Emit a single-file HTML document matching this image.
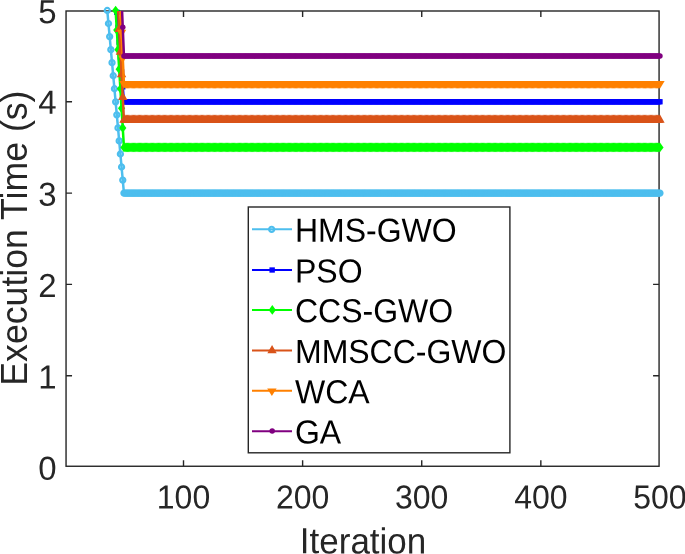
<!DOCTYPE html>
<html lang="en"><head><meta charset="utf-8"><title>Execution Time vs Iteration</title>
<style>html,body{margin:0;padding:0;background:#fff}body{width:685px;height:554px;overflow:hidden}svg{display:block}text{font-family:"Liberation Sans",Arial,Helvetica,sans-serif}</style></head><body>
<svg width="685" height="554" viewBox="0 0 685 554">
<rect width="685" height="554" fill="#fff"/>
<defs>
<clipPath id="ax"><rect x="66.05" y="11" width="593.02" height="455.26"/></clipPath>
<g id="m0"><circle r="2.55" fill="none" stroke="#4DBEEE" stroke-width="2.2"/></g>
<g id="m1"><rect x="-2.7" y="-2.7" width="5.4" height="5.3" fill="#0000FF"/></g>
<g id="m2"><path d="M0 -4.85L3.6 0L0 4.85L-3.6 0Z" fill="#00FF00"/></g>
<g id="m3"><path d="M0 -5.53 L4.7 2.77 L-4.7 2.77 Z" fill="#D95319"/></g>
<g id="m4"><path transform="translate(0 0.15)" d="M0 5.13 L4.7 -2.57 L-4.7 -2.57 Z" fill="#FF8000"/></g>
<g id="m5"><circle r="2.75" cy="-0.1" fill="#800080"/></g>
</defs>
<g stroke="#262626" stroke-width="1.4" fill="none">
<rect x="66.05" y="11" width="593.02" height="455.26"/>
<path d="M183.51 466.26v-6M183.51 11v6M302.62 466.26v-6M302.62 11v6M421.73 466.26v-6M421.73 11v6M540.84 466.26v-6M540.84 11v6M66.05 375.7h6M659.07 375.7h-6M66.05 284.4h6M659.07 284.4h-6M66.05 193.1h6M659.07 193.1h-6M66.05 101.8h6M659.07 101.8h-6"/>
</g>
<g>
<polyline clip-path="url(#ax)" points="87.03,-211.23 88.22,-198.19 89.41,-185.14 90.6,-172.1 91.79,-159.06 92.99,-146.01 94.18,-132.97 95.37,-119.93 96.56,-106.89 97.75,-93.84 98.94,-80.8 100.13,-67.76 101.32,-54.71 102.51,-41.67 103.71,-28.63 104.9,-15.59 106.09,-2.54 107.28,10.5 108.47,23.54 109.66,36.59 110.85,49.63 112.04,62.67 113.23,75.71 114.43,88.76 115.62,101.8 116.81,114.84 118,127.89 119.19,140.93 120.38,153.97 121.57,167.01 122.76,180.06 123.95,193.1 125.15,193.1 126.34,193.1 127.53,193.1 128.72,193.1 129.91,193.1 131.1,193.1 132.29,193.1 133.48,193.1 134.67,193.1 135.86,193.1 137.06,193.1 138.25,193.1 139.44,193.1 140.63,193.1 141.82,193.1 143.01,193.1 144.2,193.1 145.39,193.1 146.58,193.1 147.78,193.1 148.97,193.1 150.16,193.1 151.35,193.1 152.54,193.1 153.73,193.1 154.92,193.1 156.11,193.1 157.3,193.1 158.5,193.1 159.69,193.1 160.88,193.1 162.07,193.1 163.26,193.1 164.45,193.1 165.64,193.1 166.83,193.1 168.02,193.1 169.22,193.1 170.41,193.1 171.6,193.1 172.79,193.1 173.98,193.1 175.17,193.1 176.36,193.1 177.55,193.1 178.74,193.1 179.94,193.1 181.13,193.1 182.32,193.1 183.51,193.1 184.7,193.1 185.89,193.1 187.08,193.1 188.27,193.1 189.46,193.1 190.66,193.1 191.85,193.1 193.04,193.1 194.23,193.1 195.42,193.1 196.61,193.1 197.8,193.1 198.99,193.1 200.18,193.1 201.38,193.1 202.57,193.1 203.76,193.1 204.95,193.1 206.14,193.1 207.33,193.1 208.52,193.1 209.71,193.1 210.9,193.1 212.1,193.1 213.29,193.1 214.48,193.1 215.67,193.1 216.86,193.1 218.05,193.1 219.24,193.1 220.43,193.1 221.62,193.1 222.82,193.1 224.01,193.1 225.2,193.1 226.39,193.1 227.58,193.1 228.77,193.1 229.96,193.1 231.15,193.1 232.34,193.1 233.54,193.1 234.73,193.1 235.92,193.1 237.11,193.1 238.3,193.1 239.49,193.1 240.68,193.1 241.87,193.1 243.06,193.1 244.26,193.1 245.45,193.1 246.64,193.1 247.83,193.1 249.02,193.1 250.21,193.1 251.4,193.1 252.59,193.1 253.78,193.1 254.97,193.1 256.17,193.1 257.36,193.1 258.55,193.1 259.74,193.1 260.93,193.1 262.12,193.1 263.31,193.1 264.5,193.1 265.69,193.1 266.89,193.1 268.08,193.1 269.27,193.1 270.46,193.1 271.65,193.1 272.84,193.1 274.03,193.1 275.22,193.1 276.41,193.1 277.61,193.1 278.8,193.1 279.99,193.1 281.18,193.1 282.37,193.1 283.56,193.1 284.75,193.1 285.94,193.1 287.13,193.1 288.33,193.1 289.52,193.1 290.71,193.1 291.9,193.1 293.09,193.1 294.28,193.1 295.47,193.1 296.66,193.1 297.85,193.1 299.05,193.1 300.24,193.1 301.43,193.1 302.62,193.1 303.81,193.1 305,193.1 306.19,193.1 307.38,193.1 308.57,193.1 309.77,193.1 310.96,193.1 312.15,193.1 313.34,193.1 314.53,193.1 315.72,193.1 316.91,193.1 318.1,193.1 319.29,193.1 320.49,193.1 321.68,193.1 322.87,193.1 324.06,193.1 325.25,193.1 326.44,193.1 327.63,193.1 328.82,193.1 330.01,193.1 331.21,193.1 332.4,193.1 333.59,193.1 334.78,193.1 335.97,193.1 337.16,193.1 338.35,193.1 339.54,193.1 340.73,193.1 341.93,193.1 343.12,193.1 344.31,193.1 345.5,193.1 346.69,193.1 347.88,193.1 349.07,193.1 350.26,193.1 351.45,193.1 352.65,193.1 353.84,193.1 355.03,193.1 356.22,193.1 357.41,193.1 358.6,193.1 359.79,193.1 360.98,193.1 362.17,193.1 363.37,193.1 364.56,193.1 365.75,193.1 366.94,193.1 368.13,193.1 369.32,193.1 370.51,193.1 371.7,193.1 372.89,193.1 374.08,193.1 375.28,193.1 376.47,193.1 377.66,193.1 378.85,193.1 380.04,193.1 381.23,193.1 382.42,193.1 383.61,193.1 384.8,193.1 386,193.1 387.19,193.1 388.38,193.1 389.57,193.1 390.76,193.1 391.95,193.1 393.14,193.1 394.33,193.1 395.52,193.1 396.72,193.1 397.91,193.1 399.1,193.1 400.29,193.1 401.48,193.1 402.67,193.1 403.86,193.1 405.05,193.1 406.24,193.1 407.44,193.1 408.63,193.1 409.82,193.1 411.01,193.1 412.2,193.1 413.39,193.1 414.58,193.1 415.77,193.1 416.96,193.1 418.16,193.1 419.35,193.1 420.54,193.1 421.73,193.1 422.92,193.1 424.11,193.1 425.3,193.1 426.49,193.1 427.68,193.1 428.88,193.1 430.07,193.1 431.26,193.1 432.45,193.1 433.64,193.1 434.83,193.1 436.02,193.1 437.21,193.1 438.4,193.1 439.6,193.1 440.79,193.1 441.98,193.1 443.17,193.1 444.36,193.1 445.55,193.1 446.74,193.1 447.93,193.1 449.12,193.1 450.32,193.1 451.51,193.1 452.7,193.1 453.89,193.1 455.08,193.1 456.27,193.1 457.46,193.1 458.65,193.1 459.84,193.1 461.04,193.1 462.23,193.1 463.42,193.1 464.61,193.1 465.8,193.1 466.99,193.1 468.18,193.1 469.37,193.1 470.56,193.1 471.76,193.1 472.95,193.1 474.14,193.1 475.33,193.1 476.52,193.1 477.71,193.1 478.9,193.1 480.09,193.1 481.28,193.1 482.48,193.1 483.67,193.1 484.86,193.1 486.05,193.1 487.24,193.1 488.43,193.1 489.62,193.1 490.81,193.1 492,193.1 493.19,193.1 494.39,193.1 495.58,193.1 496.77,193.1 497.96,193.1 499.15,193.1 500.34,193.1 501.53,193.1 502.72,193.1 503.91,193.1 505.11,193.1 506.3,193.1 507.49,193.1 508.68,193.1 509.87,193.1 511.06,193.1 512.25,193.1 513.44,193.1 514.63,193.1 515.83,193.1 517.02,193.1 518.21,193.1 519.4,193.1 520.59,193.1 521.78,193.1 522.97,193.1 524.16,193.1 525.35,193.1 526.55,193.1 527.74,193.1 528.93,193.1 530.12,193.1 531.31,193.1 532.5,193.1 533.69,193.1 534.88,193.1 536.07,193.1 537.27,193.1 538.46,193.1 539.65,193.1 540.84,193.1 542.03,193.1 543.22,193.1 544.41,193.1 545.6,193.1 546.79,193.1 547.99,193.1 549.18,193.1 550.37,193.1 551.56,193.1 552.75,193.1 553.94,193.1 555.13,193.1 556.32,193.1 557.51,193.1 558.71,193.1 559.9,193.1 561.09,193.1 562.28,193.1 563.47,193.1 564.66,193.1 565.85,193.1 567.04,193.1 568.23,193.1 569.43,193.1 570.62,193.1 571.81,193.1 573,193.1 574.19,193.1 575.38,193.1 576.57,193.1 577.76,193.1 578.95,193.1 580.15,193.1 581.34,193.1 582.53,193.1 583.72,193.1 584.91,193.1 586.1,193.1 587.29,193.1 588.48,193.1 589.67,193.1 590.87,193.1 592.06,193.1 593.25,193.1 594.44,193.1 595.63,193.1 596.82,193.1 598.01,193.1 599.2,193.1 600.39,193.1 601.59,193.1 602.78,193.1 603.97,193.1 605.16,193.1 606.35,193.1 607.54,193.1 608.73,193.1 609.92,193.1 611.11,193.1 612.3,193.1 613.5,193.1 614.69,193.1 615.88,193.1 617.07,193.1 618.26,193.1 619.45,193.1 620.64,193.1 621.83,193.1 623.02,193.1 624.22,193.1 625.41,193.1 626.6,193.1 627.79,193.1 628.98,193.1 630.17,193.1 631.36,193.1 632.55,193.1 633.74,193.1 634.94,193.1 636.13,193.1 637.32,193.1 638.51,193.1 639.7,193.1 640.89,193.1 642.08,193.1 643.27,193.1 644.46,193.1 645.66,193.1 646.85,193.1 648.04,193.1 649.23,193.1 650.42,193.1 651.61,193.1 652.8,193.1 653.99,193.1 655.18,193.1 656.38,193.1 657.57,193.1 658.76,193.1 659.95,193.1" fill="none" stroke="#4DBEEE" stroke-width="2.5" stroke-linejoin="round"/>
<use href="#m0" x="107.28" y="10.5"/><use href="#m0" x="108.47" y="23.54"/><use href="#m0" x="109.66" y="36.59"/><use href="#m0" x="110.85" y="49.63"/><use href="#m0" x="112.04" y="62.67"/><use href="#m0" x="113.23" y="75.71"/><use href="#m0" x="114.43" y="88.76"/><use href="#m0" x="115.62" y="101.8"/><use href="#m0" x="116.81" y="114.84"/><use href="#m0" x="118" y="127.89"/><use href="#m0" x="119.19" y="140.93"/><use href="#m0" x="120.38" y="153.97"/><use href="#m0" x="121.57" y="167.01"/><use href="#m0" x="122.76" y="180.06"/><use href="#m0" x="123.95" y="193.1"/><use href="#m0" x="125.15" y="193.1"/><use href="#m0" x="126.34" y="193.1"/><use href="#m0" x="127.53" y="193.1"/><use href="#m0" x="128.72" y="193.1"/><use href="#m0" x="129.91" y="193.1"/><use href="#m0" x="131.1" y="193.1"/><use href="#m0" x="132.29" y="193.1"/><use href="#m0" x="133.48" y="193.1"/><use href="#m0" x="134.67" y="193.1"/><use href="#m0" x="135.86" y="193.1"/><use href="#m0" x="137.06" y="193.1"/><use href="#m0" x="138.25" y="193.1"/><use href="#m0" x="139.44" y="193.1"/><use href="#m0" x="140.63" y="193.1"/><use href="#m0" x="141.82" y="193.1"/><use href="#m0" x="143.01" y="193.1"/><use href="#m0" x="144.2" y="193.1"/><use href="#m0" x="145.39" y="193.1"/><use href="#m0" x="146.58" y="193.1"/><use href="#m0" x="147.78" y="193.1"/><use href="#m0" x="148.97" y="193.1"/><use href="#m0" x="150.16" y="193.1"/><use href="#m0" x="151.35" y="193.1"/><use href="#m0" x="152.54" y="193.1"/><use href="#m0" x="153.73" y="193.1"/><use href="#m0" x="154.92" y="193.1"/><use href="#m0" x="156.11" y="193.1"/><use href="#m0" x="157.3" y="193.1"/><use href="#m0" x="158.5" y="193.1"/><use href="#m0" x="159.69" y="193.1"/><use href="#m0" x="160.88" y="193.1"/><use href="#m0" x="162.07" y="193.1"/><use href="#m0" x="163.26" y="193.1"/><use href="#m0" x="164.45" y="193.1"/><use href="#m0" x="165.64" y="193.1"/><use href="#m0" x="166.83" y="193.1"/><use href="#m0" x="168.02" y="193.1"/><use href="#m0" x="169.22" y="193.1"/><use href="#m0" x="170.41" y="193.1"/><use href="#m0" x="171.6" y="193.1"/><use href="#m0" x="172.79" y="193.1"/><use href="#m0" x="173.98" y="193.1"/><use href="#m0" x="175.17" y="193.1"/><use href="#m0" x="176.36" y="193.1"/><use href="#m0" x="177.55" y="193.1"/><use href="#m0" x="178.74" y="193.1"/><use href="#m0" x="179.94" y="193.1"/><use href="#m0" x="181.13" y="193.1"/><use href="#m0" x="182.32" y="193.1"/><use href="#m0" x="183.51" y="193.1"/><use href="#m0" x="184.7" y="193.1"/><use href="#m0" x="185.89" y="193.1"/><use href="#m0" x="187.08" y="193.1"/><use href="#m0" x="188.27" y="193.1"/><use href="#m0" x="189.46" y="193.1"/><use href="#m0" x="190.66" y="193.1"/><use href="#m0" x="191.85" y="193.1"/><use href="#m0" x="193.04" y="193.1"/><use href="#m0" x="194.23" y="193.1"/><use href="#m0" x="195.42" y="193.1"/><use href="#m0" x="196.61" y="193.1"/><use href="#m0" x="197.8" y="193.1"/><use href="#m0" x="198.99" y="193.1"/><use href="#m0" x="200.18" y="193.1"/><use href="#m0" x="201.38" y="193.1"/><use href="#m0" x="202.57" y="193.1"/><use href="#m0" x="203.76" y="193.1"/><use href="#m0" x="204.95" y="193.1"/><use href="#m0" x="206.14" y="193.1"/><use href="#m0" x="207.33" y="193.1"/><use href="#m0" x="208.52" y="193.1"/><use href="#m0" x="209.71" y="193.1"/><use href="#m0" x="210.9" y="193.1"/><use href="#m0" x="212.1" y="193.1"/><use href="#m0" x="213.29" y="193.1"/><use href="#m0" x="214.48" y="193.1"/><use href="#m0" x="215.67" y="193.1"/><use href="#m0" x="216.86" y="193.1"/><use href="#m0" x="218.05" y="193.1"/><use href="#m0" x="219.24" y="193.1"/><use href="#m0" x="220.43" y="193.1"/><use href="#m0" x="221.62" y="193.1"/><use href="#m0" x="222.82" y="193.1"/><use href="#m0" x="224.01" y="193.1"/><use href="#m0" x="225.2" y="193.1"/><use href="#m0" x="226.39" y="193.1"/><use href="#m0" x="227.58" y="193.1"/><use href="#m0" x="228.77" y="193.1"/><use href="#m0" x="229.96" y="193.1"/><use href="#m0" x="231.15" y="193.1"/><use href="#m0" x="232.34" y="193.1"/><use href="#m0" x="233.54" y="193.1"/><use href="#m0" x="234.73" y="193.1"/><use href="#m0" x="235.92" y="193.1"/><use href="#m0" x="237.11" y="193.1"/><use href="#m0" x="238.3" y="193.1"/><use href="#m0" x="239.49" y="193.1"/><use href="#m0" x="240.68" y="193.1"/><use href="#m0" x="241.87" y="193.1"/><use href="#m0" x="243.06" y="193.1"/><use href="#m0" x="244.26" y="193.1"/><use href="#m0" x="245.45" y="193.1"/><use href="#m0" x="246.64" y="193.1"/><use href="#m0" x="247.83" y="193.1"/><use href="#m0" x="249.02" y="193.1"/><use href="#m0" x="250.21" y="193.1"/><use href="#m0" x="251.4" y="193.1"/><use href="#m0" x="252.59" y="193.1"/><use href="#m0" x="253.78" y="193.1"/><use href="#m0" x="254.97" y="193.1"/><use href="#m0" x="256.17" y="193.1"/><use href="#m0" x="257.36" y="193.1"/><use href="#m0" x="258.55" y="193.1"/><use href="#m0" x="259.74" y="193.1"/><use href="#m0" x="260.93" y="193.1"/><use href="#m0" x="262.12" y="193.1"/><use href="#m0" x="263.31" y="193.1"/><use href="#m0" x="264.5" y="193.1"/><use href="#m0" x="265.69" y="193.1"/><use href="#m0" x="266.89" y="193.1"/><use href="#m0" x="268.08" y="193.1"/><use href="#m0" x="269.27" y="193.1"/><use href="#m0" x="270.46" y="193.1"/><use href="#m0" x="271.65" y="193.1"/><use href="#m0" x="272.84" y="193.1"/><use href="#m0" x="274.03" y="193.1"/><use href="#m0" x="275.22" y="193.1"/><use href="#m0" x="276.41" y="193.1"/><use href="#m0" x="277.61" y="193.1"/><use href="#m0" x="278.8" y="193.1"/><use href="#m0" x="279.99" y="193.1"/><use href="#m0" x="281.18" y="193.1"/><use href="#m0" x="282.37" y="193.1"/><use href="#m0" x="283.56" y="193.1"/><use href="#m0" x="284.75" y="193.1"/><use href="#m0" x="285.94" y="193.1"/><use href="#m0" x="287.13" y="193.1"/><use href="#m0" x="288.33" y="193.1"/><use href="#m0" x="289.52" y="193.1"/><use href="#m0" x="290.71" y="193.1"/><use href="#m0" x="291.9" y="193.1"/><use href="#m0" x="293.09" y="193.1"/><use href="#m0" x="294.28" y="193.1"/><use href="#m0" x="295.47" y="193.1"/><use href="#m0" x="296.66" y="193.1"/><use href="#m0" x="297.85" y="193.1"/><use href="#m0" x="299.05" y="193.1"/><use href="#m0" x="300.24" y="193.1"/><use href="#m0" x="301.43" y="193.1"/><use href="#m0" x="302.62" y="193.1"/><use href="#m0" x="303.81" y="193.1"/><use href="#m0" x="305" y="193.1"/><use href="#m0" x="306.19" y="193.1"/><use href="#m0" x="307.38" y="193.1"/><use href="#m0" x="308.57" y="193.1"/><use href="#m0" x="309.77" y="193.1"/><use href="#m0" x="310.96" y="193.1"/><use href="#m0" x="312.15" y="193.1"/><use href="#m0" x="313.34" y="193.1"/><use href="#m0" x="314.53" y="193.1"/><use href="#m0" x="315.72" y="193.1"/><use href="#m0" x="316.91" y="193.1"/><use href="#m0" x="318.1" y="193.1"/><use href="#m0" x="319.29" y="193.1"/><use href="#m0" x="320.49" y="193.1"/><use href="#m0" x="321.68" y="193.1"/><use href="#m0" x="322.87" y="193.1"/><use href="#m0" x="324.06" y="193.1"/><use href="#m0" x="325.25" y="193.1"/><use href="#m0" x="326.44" y="193.1"/><use href="#m0" x="327.63" y="193.1"/><use href="#m0" x="328.82" y="193.1"/><use href="#m0" x="330.01" y="193.1"/><use href="#m0" x="331.21" y="193.1"/><use href="#m0" x="332.4" y="193.1"/><use href="#m0" x="333.59" y="193.1"/><use href="#m0" x="334.78" y="193.1"/><use href="#m0" x="335.97" y="193.1"/><use href="#m0" x="337.16" y="193.1"/><use href="#m0" x="338.35" y="193.1"/><use href="#m0" x="339.54" y="193.1"/><use href="#m0" x="340.73" y="193.1"/><use href="#m0" x="341.93" y="193.1"/><use href="#m0" x="343.12" y="193.1"/><use href="#m0" x="344.31" y="193.1"/><use href="#m0" x="345.5" y="193.1"/><use href="#m0" x="346.69" y="193.1"/><use href="#m0" x="347.88" y="193.1"/><use href="#m0" x="349.07" y="193.1"/><use href="#m0" x="350.26" y="193.1"/><use href="#m0" x="351.45" y="193.1"/><use href="#m0" x="352.65" y="193.1"/><use href="#m0" x="353.84" y="193.1"/><use href="#m0" x="355.03" y="193.1"/><use href="#m0" x="356.22" y="193.1"/><use href="#m0" x="357.41" y="193.1"/><use href="#m0" x="358.6" y="193.1"/><use href="#m0" x="359.79" y="193.1"/><use href="#m0" x="360.98" y="193.1"/><use href="#m0" x="362.17" y="193.1"/><use href="#m0" x="363.37" y="193.1"/><use href="#m0" x="364.56" y="193.1"/><use href="#m0" x="365.75" y="193.1"/><use href="#m0" x="366.94" y="193.1"/><use href="#m0" x="368.13" y="193.1"/><use href="#m0" x="369.32" y="193.1"/><use href="#m0" x="370.51" y="193.1"/><use href="#m0" x="371.7" y="193.1"/><use href="#m0" x="372.89" y="193.1"/><use href="#m0" x="374.08" y="193.1"/><use href="#m0" x="375.28" y="193.1"/><use href="#m0" x="376.47" y="193.1"/><use href="#m0" x="377.66" y="193.1"/><use href="#m0" x="378.85" y="193.1"/><use href="#m0" x="380.04" y="193.1"/><use href="#m0" x="381.23" y="193.1"/><use href="#m0" x="382.42" y="193.1"/><use href="#m0" x="383.61" y="193.1"/><use href="#m0" x="384.8" y="193.1"/><use href="#m0" x="386" y="193.1"/><use href="#m0" x="387.19" y="193.1"/><use href="#m0" x="388.38" y="193.1"/><use href="#m0" x="389.57" y="193.1"/><use href="#m0" x="390.76" y="193.1"/><use href="#m0" x="391.95" y="193.1"/><use href="#m0" x="393.14" y="193.1"/><use href="#m0" x="394.33" y="193.1"/><use href="#m0" x="395.52" y="193.1"/><use href="#m0" x="396.72" y="193.1"/><use href="#m0" x="397.91" y="193.1"/><use href="#m0" x="399.1" y="193.1"/><use href="#m0" x="400.29" y="193.1"/><use href="#m0" x="401.48" y="193.1"/><use href="#m0" x="402.67" y="193.1"/><use href="#m0" x="403.86" y="193.1"/><use href="#m0" x="405.05" y="193.1"/><use href="#m0" x="406.24" y="193.1"/><use href="#m0" x="407.44" y="193.1"/><use href="#m0" x="408.63" y="193.1"/><use href="#m0" x="409.82" y="193.1"/><use href="#m0" x="411.01" y="193.1"/><use href="#m0" x="412.2" y="193.1"/><use href="#m0" x="413.39" y="193.1"/><use href="#m0" x="414.58" y="193.1"/><use href="#m0" x="415.77" y="193.1"/><use href="#m0" x="416.96" y="193.1"/><use href="#m0" x="418.16" y="193.1"/><use href="#m0" x="419.35" y="193.1"/><use href="#m0" x="420.54" y="193.1"/><use href="#m0" x="421.73" y="193.1"/><use href="#m0" x="422.92" y="193.1"/><use href="#m0" x="424.11" y="193.1"/><use href="#m0" x="425.3" y="193.1"/><use href="#m0" x="426.49" y="193.1"/><use href="#m0" x="427.68" y="193.1"/><use href="#m0" x="428.88" y="193.1"/><use href="#m0" x="430.07" y="193.1"/><use href="#m0" x="431.26" y="193.1"/><use href="#m0" x="432.45" y="193.1"/><use href="#m0" x="433.64" y="193.1"/><use href="#m0" x="434.83" y="193.1"/><use href="#m0" x="436.02" y="193.1"/><use href="#m0" x="437.21" y="193.1"/><use href="#m0" x="438.4" y="193.1"/><use href="#m0" x="439.6" y="193.1"/><use href="#m0" x="440.79" y="193.1"/><use href="#m0" x="441.98" y="193.1"/><use href="#m0" x="443.17" y="193.1"/><use href="#m0" x="444.36" y="193.1"/><use href="#m0" x="445.55" y="193.1"/><use href="#m0" x="446.74" y="193.1"/><use href="#m0" x="447.93" y="193.1"/><use href="#m0" x="449.12" y="193.1"/><use href="#m0" x="450.32" y="193.1"/><use href="#m0" x="451.51" y="193.1"/><use href="#m0" x="452.7" y="193.1"/><use href="#m0" x="453.89" y="193.1"/><use href="#m0" x="455.08" y="193.1"/><use href="#m0" x="456.27" y="193.1"/><use href="#m0" x="457.46" y="193.1"/><use href="#m0" x="458.65" y="193.1"/><use href="#m0" x="459.84" y="193.1"/><use href="#m0" x="461.04" y="193.1"/><use href="#m0" x="462.23" y="193.1"/><use href="#m0" x="463.42" y="193.1"/><use href="#m0" x="464.61" y="193.1"/><use href="#m0" x="465.8" y="193.1"/><use href="#m0" x="466.99" y="193.1"/><use href="#m0" x="468.18" y="193.1"/><use href="#m0" x="469.37" y="193.1"/><use href="#m0" x="470.56" y="193.1"/><use href="#m0" x="471.76" y="193.1"/><use href="#m0" x="472.95" y="193.1"/><use href="#m0" x="474.14" y="193.1"/><use href="#m0" x="475.33" y="193.1"/><use href="#m0" x="476.52" y="193.1"/><use href="#m0" x="477.71" y="193.1"/><use href="#m0" x="478.9" y="193.1"/><use href="#m0" x="480.09" y="193.1"/><use href="#m0" x="481.28" y="193.1"/><use href="#m0" x="482.48" y="193.1"/><use href="#m0" x="483.67" y="193.1"/><use href="#m0" x="484.86" y="193.1"/><use href="#m0" x="486.05" y="193.1"/><use href="#m0" x="487.24" y="193.1"/><use href="#m0" x="488.43" y="193.1"/><use href="#m0" x="489.62" y="193.1"/><use href="#m0" x="490.81" y="193.1"/><use href="#m0" x="492" y="193.1"/><use href="#m0" x="493.19" y="193.1"/><use href="#m0" x="494.39" y="193.1"/><use href="#m0" x="495.58" y="193.1"/><use href="#m0" x="496.77" y="193.1"/><use href="#m0" x="497.96" y="193.1"/><use href="#m0" x="499.15" y="193.1"/><use href="#m0" x="500.34" y="193.1"/><use href="#m0" x="501.53" y="193.1"/><use href="#m0" x="502.72" y="193.1"/><use href="#m0" x="503.91" y="193.1"/><use href="#m0" x="505.11" y="193.1"/><use href="#m0" x="506.3" y="193.1"/><use href="#m0" x="507.49" y="193.1"/><use href="#m0" x="508.68" y="193.1"/><use href="#m0" x="509.87" y="193.1"/><use href="#m0" x="511.06" y="193.1"/><use href="#m0" x="512.25" y="193.1"/><use href="#m0" x="513.44" y="193.1"/><use href="#m0" x="514.63" y="193.1"/><use href="#m0" x="515.83" y="193.1"/><use href="#m0" x="517.02" y="193.1"/><use href="#m0" x="518.21" y="193.1"/><use href="#m0" x="519.4" y="193.1"/><use href="#m0" x="520.59" y="193.1"/><use href="#m0" x="521.78" y="193.1"/><use href="#m0" x="522.97" y="193.1"/><use href="#m0" x="524.16" y="193.1"/><use href="#m0" x="525.35" y="193.1"/><use href="#m0" x="526.55" y="193.1"/><use href="#m0" x="527.74" y="193.1"/><use href="#m0" x="528.93" y="193.1"/><use href="#m0" x="530.12" y="193.1"/><use href="#m0" x="531.31" y="193.1"/><use href="#m0" x="532.5" y="193.1"/><use href="#m0" x="533.69" y="193.1"/><use href="#m0" x="534.88" y="193.1"/><use href="#m0" x="536.07" y="193.1"/><use href="#m0" x="537.27" y="193.1"/><use href="#m0" x="538.46" y="193.1"/><use href="#m0" x="539.65" y="193.1"/><use href="#m0" x="540.84" y="193.1"/><use href="#m0" x="542.03" y="193.1"/><use href="#m0" x="543.22" y="193.1"/><use href="#m0" x="544.41" y="193.1"/><use href="#m0" x="545.6" y="193.1"/><use href="#m0" x="546.79" y="193.1"/><use href="#m0" x="547.99" y="193.1"/><use href="#m0" x="549.18" y="193.1"/><use href="#m0" x="550.37" y="193.1"/><use href="#m0" x="551.56" y="193.1"/><use href="#m0" x="552.75" y="193.1"/><use href="#m0" x="553.94" y="193.1"/><use href="#m0" x="555.13" y="193.1"/><use href="#m0" x="556.32" y="193.1"/><use href="#m0" x="557.51" y="193.1"/><use href="#m0" x="558.71" y="193.1"/><use href="#m0" x="559.9" y="193.1"/><use href="#m0" x="561.09" y="193.1"/><use href="#m0" x="562.28" y="193.1"/><use href="#m0" x="563.47" y="193.1"/><use href="#m0" x="564.66" y="193.1"/><use href="#m0" x="565.85" y="193.1"/><use href="#m0" x="567.04" y="193.1"/><use href="#m0" x="568.23" y="193.1"/><use href="#m0" x="569.43" y="193.1"/><use href="#m0" x="570.62" y="193.1"/><use href="#m0" x="571.81" y="193.1"/><use href="#m0" x="573" y="193.1"/><use href="#m0" x="574.19" y="193.1"/><use href="#m0" x="575.38" y="193.1"/><use href="#m0" x="576.57" y="193.1"/><use href="#m0" x="577.76" y="193.1"/><use href="#m0" x="578.95" y="193.1"/><use href="#m0" x="580.15" y="193.1"/><use href="#m0" x="581.34" y="193.1"/><use href="#m0" x="582.53" y="193.1"/><use href="#m0" x="583.72" y="193.1"/><use href="#m0" x="584.91" y="193.1"/><use href="#m0" x="586.1" y="193.1"/><use href="#m0" x="587.29" y="193.1"/><use href="#m0" x="588.48" y="193.1"/><use href="#m0" x="589.67" y="193.1"/><use href="#m0" x="590.87" y="193.1"/><use href="#m0" x="592.06" y="193.1"/><use href="#m0" x="593.25" y="193.1"/><use href="#m0" x="594.44" y="193.1"/><use href="#m0" x="595.63" y="193.1"/><use href="#m0" x="596.82" y="193.1"/><use href="#m0" x="598.01" y="193.1"/><use href="#m0" x="599.2" y="193.1"/><use href="#m0" x="600.39" y="193.1"/><use href="#m0" x="601.59" y="193.1"/><use href="#m0" x="602.78" y="193.1"/><use href="#m0" x="603.97" y="193.1"/><use href="#m0" x="605.16" y="193.1"/><use href="#m0" x="606.35" y="193.1"/><use href="#m0" x="607.54" y="193.1"/><use href="#m0" x="608.73" y="193.1"/><use href="#m0" x="609.92" y="193.1"/><use href="#m0" x="611.11" y="193.1"/><use href="#m0" x="612.3" y="193.1"/><use href="#m0" x="613.5" y="193.1"/><use href="#m0" x="614.69" y="193.1"/><use href="#m0" x="615.88" y="193.1"/><use href="#m0" x="617.07" y="193.1"/><use href="#m0" x="618.26" y="193.1"/><use href="#m0" x="619.45" y="193.1"/><use href="#m0" x="620.64" y="193.1"/><use href="#m0" x="621.83" y="193.1"/><use href="#m0" x="623.02" y="193.1"/><use href="#m0" x="624.22" y="193.1"/><use href="#m0" x="625.41" y="193.1"/><use href="#m0" x="626.6" y="193.1"/><use href="#m0" x="627.79" y="193.1"/><use href="#m0" x="628.98" y="193.1"/><use href="#m0" x="630.17" y="193.1"/><use href="#m0" x="631.36" y="193.1"/><use href="#m0" x="632.55" y="193.1"/><use href="#m0" x="633.74" y="193.1"/><use href="#m0" x="634.94" y="193.1"/><use href="#m0" x="636.13" y="193.1"/><use href="#m0" x="637.32" y="193.1"/><use href="#m0" x="638.51" y="193.1"/><use href="#m0" x="639.7" y="193.1"/><use href="#m0" x="640.89" y="193.1"/><use href="#m0" x="642.08" y="193.1"/><use href="#m0" x="643.27" y="193.1"/><use href="#m0" x="644.46" y="193.1"/><use href="#m0" x="645.66" y="193.1"/><use href="#m0" x="646.85" y="193.1"/><use href="#m0" x="648.04" y="193.1"/><use href="#m0" x="649.23" y="193.1"/><use href="#m0" x="650.42" y="193.1"/><use href="#m0" x="651.61" y="193.1"/><use href="#m0" x="652.8" y="193.1"/><use href="#m0" x="653.99" y="193.1"/><use href="#m0" x="655.18" y="193.1"/><use href="#m0" x="656.38" y="193.1"/><use href="#m0" x="657.57" y="193.1"/><use href="#m0" x="658.76" y="193.1"/><use href="#m0" x="659.95" y="193.1"/>
</g>
<g>
<polyline clip-path="url(#ax)" points="98.94,-211.23 100.13,-196.32 101.32,-181.42 102.51,-166.51 103.71,-151.6 104.9,-136.7 106.09,-121.79 107.28,-106.89 108.47,-91.98 109.66,-77.07 110.85,-62.17 112.04,-47.26 113.23,-32.36 114.43,-17.45 115.62,-2.54 116.81,12.36 118,27.27 119.19,42.18 120.38,57.08 121.57,71.99 122.76,86.89 123.95,101.8 125.15,101.8 126.34,101.8 127.53,101.8 128.72,101.8 129.91,101.8 131.1,101.8 132.29,101.8 133.48,101.8 134.67,101.8 135.86,101.8 137.06,101.8 138.25,101.8 139.44,101.8 140.63,101.8 141.82,101.8 143.01,101.8 144.2,101.8 145.39,101.8 146.58,101.8 147.78,101.8 148.97,101.8 150.16,101.8 151.35,101.8 152.54,101.8 153.73,101.8 154.92,101.8 156.11,101.8 157.3,101.8 158.5,101.8 159.69,101.8 160.88,101.8 162.07,101.8 163.26,101.8 164.45,101.8 165.64,101.8 166.83,101.8 168.02,101.8 169.22,101.8 170.41,101.8 171.6,101.8 172.79,101.8 173.98,101.8 175.17,101.8 176.36,101.8 177.55,101.8 178.74,101.8 179.94,101.8 181.13,101.8 182.32,101.8 183.51,101.8 184.7,101.8 185.89,101.8 187.08,101.8 188.27,101.8 189.46,101.8 190.66,101.8 191.85,101.8 193.04,101.8 194.23,101.8 195.42,101.8 196.61,101.8 197.8,101.8 198.99,101.8 200.18,101.8 201.38,101.8 202.57,101.8 203.76,101.8 204.95,101.8 206.14,101.8 207.33,101.8 208.52,101.8 209.71,101.8 210.9,101.8 212.1,101.8 213.29,101.8 214.48,101.8 215.67,101.8 216.86,101.8 218.05,101.8 219.24,101.8 220.43,101.8 221.62,101.8 222.82,101.8 224.01,101.8 225.2,101.8 226.39,101.8 227.58,101.8 228.77,101.8 229.96,101.8 231.15,101.8 232.34,101.8 233.54,101.8 234.73,101.8 235.92,101.8 237.11,101.8 238.3,101.8 239.49,101.8 240.68,101.8 241.87,101.8 243.06,101.8 244.26,101.8 245.45,101.8 246.64,101.8 247.83,101.8 249.02,101.8 250.21,101.8 251.4,101.8 252.59,101.8 253.78,101.8 254.97,101.8 256.17,101.8 257.36,101.8 258.55,101.8 259.74,101.8 260.93,101.8 262.12,101.8 263.31,101.8 264.5,101.8 265.69,101.8 266.89,101.8 268.08,101.8 269.27,101.8 270.46,101.8 271.65,101.8 272.84,101.8 274.03,101.8 275.22,101.8 276.41,101.8 277.61,101.8 278.8,101.8 279.99,101.8 281.18,101.8 282.37,101.8 283.56,101.8 284.75,101.8 285.94,101.8 287.13,101.8 288.33,101.8 289.52,101.8 290.71,101.8 291.9,101.8 293.09,101.8 294.28,101.8 295.47,101.8 296.66,101.8 297.85,101.8 299.05,101.8 300.24,101.8 301.43,101.8 302.62,101.8 303.81,101.8 305,101.8 306.19,101.8 307.38,101.8 308.57,101.8 309.77,101.8 310.96,101.8 312.15,101.8 313.34,101.8 314.53,101.8 315.72,101.8 316.91,101.8 318.1,101.8 319.29,101.8 320.49,101.8 321.68,101.8 322.87,101.8 324.06,101.8 325.25,101.8 326.44,101.8 327.63,101.8 328.82,101.8 330.01,101.8 331.21,101.8 332.4,101.8 333.59,101.8 334.78,101.8 335.97,101.8 337.16,101.8 338.35,101.8 339.54,101.8 340.73,101.8 341.93,101.8 343.12,101.8 344.31,101.8 345.5,101.8 346.69,101.8 347.88,101.8 349.07,101.8 350.26,101.8 351.45,101.8 352.65,101.8 353.84,101.8 355.03,101.8 356.22,101.8 357.41,101.8 358.6,101.8 359.79,101.8 360.98,101.8 362.17,101.8 363.37,101.8 364.56,101.8 365.75,101.8 366.94,101.8 368.13,101.8 369.32,101.8 370.51,101.8 371.7,101.8 372.89,101.8 374.08,101.8 375.28,101.8 376.47,101.8 377.66,101.8 378.85,101.8 380.04,101.8 381.23,101.8 382.42,101.8 383.61,101.8 384.8,101.8 386,101.8 387.19,101.8 388.38,101.8 389.57,101.8 390.76,101.8 391.95,101.8 393.14,101.8 394.33,101.8 395.52,101.8 396.72,101.8 397.91,101.8 399.1,101.8 400.29,101.8 401.48,101.8 402.67,101.8 403.86,101.8 405.05,101.8 406.24,101.8 407.44,101.8 408.63,101.8 409.82,101.8 411.01,101.8 412.2,101.8 413.39,101.8 414.58,101.8 415.77,101.8 416.96,101.8 418.16,101.8 419.35,101.8 420.54,101.8 421.73,101.8 422.92,101.8 424.11,101.8 425.3,101.8 426.49,101.8 427.68,101.8 428.88,101.8 430.07,101.8 431.26,101.8 432.45,101.8 433.64,101.8 434.83,101.8 436.02,101.8 437.21,101.8 438.4,101.8 439.6,101.8 440.79,101.8 441.98,101.8 443.17,101.8 444.36,101.8 445.55,101.8 446.74,101.8 447.93,101.8 449.12,101.8 450.32,101.8 451.51,101.8 452.7,101.8 453.89,101.8 455.08,101.8 456.27,101.8 457.46,101.8 458.65,101.8 459.84,101.8 461.04,101.8 462.23,101.8 463.42,101.8 464.61,101.8 465.8,101.8 466.99,101.8 468.18,101.8 469.37,101.8 470.56,101.8 471.76,101.8 472.95,101.8 474.14,101.8 475.33,101.8 476.52,101.8 477.71,101.8 478.9,101.8 480.09,101.8 481.28,101.8 482.48,101.8 483.67,101.8 484.86,101.8 486.05,101.8 487.24,101.8 488.43,101.8 489.62,101.8 490.81,101.8 492,101.8 493.19,101.8 494.39,101.8 495.58,101.8 496.77,101.8 497.96,101.8 499.15,101.8 500.34,101.8 501.53,101.8 502.72,101.8 503.91,101.8 505.11,101.8 506.3,101.8 507.49,101.8 508.68,101.8 509.87,101.8 511.06,101.8 512.25,101.8 513.44,101.8 514.63,101.8 515.83,101.8 517.02,101.8 518.21,101.8 519.4,101.8 520.59,101.8 521.78,101.8 522.97,101.8 524.16,101.8 525.35,101.8 526.55,101.8 527.74,101.8 528.93,101.8 530.12,101.8 531.31,101.8 532.5,101.8 533.69,101.8 534.88,101.8 536.07,101.8 537.27,101.8 538.46,101.8 539.65,101.8 540.84,101.8 542.03,101.8 543.22,101.8 544.41,101.8 545.6,101.8 546.79,101.8 547.99,101.8 549.18,101.8 550.37,101.8 551.56,101.8 552.75,101.8 553.94,101.8 555.13,101.8 556.32,101.8 557.51,101.8 558.71,101.8 559.9,101.8 561.09,101.8 562.28,101.8 563.47,101.8 564.66,101.8 565.85,101.8 567.04,101.8 568.23,101.8 569.43,101.8 570.62,101.8 571.81,101.8 573,101.8 574.19,101.8 575.38,101.8 576.57,101.8 577.76,101.8 578.95,101.8 580.15,101.8 581.34,101.8 582.53,101.8 583.72,101.8 584.91,101.8 586.1,101.8 587.29,101.8 588.48,101.8 589.67,101.8 590.87,101.8 592.06,101.8 593.25,101.8 594.44,101.8 595.63,101.8 596.82,101.8 598.01,101.8 599.2,101.8 600.39,101.8 601.59,101.8 602.78,101.8 603.97,101.8 605.16,101.8 606.35,101.8 607.54,101.8 608.73,101.8 609.92,101.8 611.11,101.8 612.3,101.8 613.5,101.8 614.69,101.8 615.88,101.8 617.07,101.8 618.26,101.8 619.45,101.8 620.64,101.8 621.83,101.8 623.02,101.8 624.22,101.8 625.41,101.8 626.6,101.8 627.79,101.8 628.98,101.8 630.17,101.8 631.36,101.8 632.55,101.8 633.74,101.8 634.94,101.8 636.13,101.8 637.32,101.8 638.51,101.8 639.7,101.8 640.89,101.8 642.08,101.8 643.27,101.8 644.46,101.8 645.66,101.8 646.85,101.8 648.04,101.8 649.23,101.8 650.42,101.8 651.61,101.8 652.8,101.8 653.99,101.8 655.18,101.8 656.38,101.8 657.57,101.8 658.76,101.8 659.95,101.8" fill="none" stroke="#0000FF" stroke-width="2.5" stroke-linejoin="round"/>
<use href="#m1" x="116.81" y="12.36"/><use href="#m1" x="118" y="27.27"/><use href="#m1" x="119.19" y="42.18"/><use href="#m1" x="120.38" y="57.08"/><use href="#m1" x="121.57" y="71.99"/><use href="#m1" x="122.76" y="86.89"/><use href="#m1" x="123.95" y="101.8"/><use href="#m1" x="125.15" y="101.8"/><use href="#m1" x="126.34" y="101.8"/><use href="#m1" x="127.53" y="101.8"/><use href="#m1" x="128.72" y="101.8"/><use href="#m1" x="129.91" y="101.8"/><use href="#m1" x="131.1" y="101.8"/><use href="#m1" x="132.29" y="101.8"/><use href="#m1" x="133.48" y="101.8"/><use href="#m1" x="134.67" y="101.8"/><use href="#m1" x="135.86" y="101.8"/><use href="#m1" x="137.06" y="101.8"/><use href="#m1" x="138.25" y="101.8"/><use href="#m1" x="139.44" y="101.8"/><use href="#m1" x="140.63" y="101.8"/><use href="#m1" x="141.82" y="101.8"/><use href="#m1" x="143.01" y="101.8"/><use href="#m1" x="144.2" y="101.8"/><use href="#m1" x="145.39" y="101.8"/><use href="#m1" x="146.58" y="101.8"/><use href="#m1" x="147.78" y="101.8"/><use href="#m1" x="148.97" y="101.8"/><use href="#m1" x="150.16" y="101.8"/><use href="#m1" x="151.35" y="101.8"/><use href="#m1" x="152.54" y="101.8"/><use href="#m1" x="153.73" y="101.8"/><use href="#m1" x="154.92" y="101.8"/><use href="#m1" x="156.11" y="101.8"/><use href="#m1" x="157.3" y="101.8"/><use href="#m1" x="158.5" y="101.8"/><use href="#m1" x="159.69" y="101.8"/><use href="#m1" x="160.88" y="101.8"/><use href="#m1" x="162.07" y="101.8"/><use href="#m1" x="163.26" y="101.8"/><use href="#m1" x="164.45" y="101.8"/><use href="#m1" x="165.64" y="101.8"/><use href="#m1" x="166.83" y="101.8"/><use href="#m1" x="168.02" y="101.8"/><use href="#m1" x="169.22" y="101.8"/><use href="#m1" x="170.41" y="101.8"/><use href="#m1" x="171.6" y="101.8"/><use href="#m1" x="172.79" y="101.8"/><use href="#m1" x="173.98" y="101.8"/><use href="#m1" x="175.17" y="101.8"/><use href="#m1" x="176.36" y="101.8"/><use href="#m1" x="177.55" y="101.8"/><use href="#m1" x="178.74" y="101.8"/><use href="#m1" x="179.94" y="101.8"/><use href="#m1" x="181.13" y="101.8"/><use href="#m1" x="182.32" y="101.8"/><use href="#m1" x="183.51" y="101.8"/><use href="#m1" x="184.7" y="101.8"/><use href="#m1" x="185.89" y="101.8"/><use href="#m1" x="187.08" y="101.8"/><use href="#m1" x="188.27" y="101.8"/><use href="#m1" x="189.46" y="101.8"/><use href="#m1" x="190.66" y="101.8"/><use href="#m1" x="191.85" y="101.8"/><use href="#m1" x="193.04" y="101.8"/><use href="#m1" x="194.23" y="101.8"/><use href="#m1" x="195.42" y="101.8"/><use href="#m1" x="196.61" y="101.8"/><use href="#m1" x="197.8" y="101.8"/><use href="#m1" x="198.99" y="101.8"/><use href="#m1" x="200.18" y="101.8"/><use href="#m1" x="201.38" y="101.8"/><use href="#m1" x="202.57" y="101.8"/><use href="#m1" x="203.76" y="101.8"/><use href="#m1" x="204.95" y="101.8"/><use href="#m1" x="206.14" y="101.8"/><use href="#m1" x="207.33" y="101.8"/><use href="#m1" x="208.52" y="101.8"/><use href="#m1" x="209.71" y="101.8"/><use href="#m1" x="210.9" y="101.8"/><use href="#m1" x="212.1" y="101.8"/><use href="#m1" x="213.29" y="101.8"/><use href="#m1" x="214.48" y="101.8"/><use href="#m1" x="215.67" y="101.8"/><use href="#m1" x="216.86" y="101.8"/><use href="#m1" x="218.05" y="101.8"/><use href="#m1" x="219.24" y="101.8"/><use href="#m1" x="220.43" y="101.8"/><use href="#m1" x="221.62" y="101.8"/><use href="#m1" x="222.82" y="101.8"/><use href="#m1" x="224.01" y="101.8"/><use href="#m1" x="225.2" y="101.8"/><use href="#m1" x="226.39" y="101.8"/><use href="#m1" x="227.58" y="101.8"/><use href="#m1" x="228.77" y="101.8"/><use href="#m1" x="229.96" y="101.8"/><use href="#m1" x="231.15" y="101.8"/><use href="#m1" x="232.34" y="101.8"/><use href="#m1" x="233.54" y="101.8"/><use href="#m1" x="234.73" y="101.8"/><use href="#m1" x="235.92" y="101.8"/><use href="#m1" x="237.11" y="101.8"/><use href="#m1" x="238.3" y="101.8"/><use href="#m1" x="239.49" y="101.8"/><use href="#m1" x="240.68" y="101.8"/><use href="#m1" x="241.87" y="101.8"/><use href="#m1" x="243.06" y="101.8"/><use href="#m1" x="244.26" y="101.8"/><use href="#m1" x="245.45" y="101.8"/><use href="#m1" x="246.64" y="101.8"/><use href="#m1" x="247.83" y="101.8"/><use href="#m1" x="249.02" y="101.8"/><use href="#m1" x="250.21" y="101.8"/><use href="#m1" x="251.4" y="101.8"/><use href="#m1" x="252.59" y="101.8"/><use href="#m1" x="253.78" y="101.8"/><use href="#m1" x="254.97" y="101.8"/><use href="#m1" x="256.17" y="101.8"/><use href="#m1" x="257.36" y="101.8"/><use href="#m1" x="258.55" y="101.8"/><use href="#m1" x="259.74" y="101.8"/><use href="#m1" x="260.93" y="101.8"/><use href="#m1" x="262.12" y="101.8"/><use href="#m1" x="263.31" y="101.8"/><use href="#m1" x="264.5" y="101.8"/><use href="#m1" x="265.69" y="101.8"/><use href="#m1" x="266.89" y="101.8"/><use href="#m1" x="268.08" y="101.8"/><use href="#m1" x="269.27" y="101.8"/><use href="#m1" x="270.46" y="101.8"/><use href="#m1" x="271.65" y="101.8"/><use href="#m1" x="272.84" y="101.8"/><use href="#m1" x="274.03" y="101.8"/><use href="#m1" x="275.22" y="101.8"/><use href="#m1" x="276.41" y="101.8"/><use href="#m1" x="277.61" y="101.8"/><use href="#m1" x="278.8" y="101.8"/><use href="#m1" x="279.99" y="101.8"/><use href="#m1" x="281.18" y="101.8"/><use href="#m1" x="282.37" y="101.8"/><use href="#m1" x="283.56" y="101.8"/><use href="#m1" x="284.75" y="101.8"/><use href="#m1" x="285.94" y="101.8"/><use href="#m1" x="287.13" y="101.8"/><use href="#m1" x="288.33" y="101.8"/><use href="#m1" x="289.52" y="101.8"/><use href="#m1" x="290.71" y="101.8"/><use href="#m1" x="291.9" y="101.8"/><use href="#m1" x="293.09" y="101.8"/><use href="#m1" x="294.28" y="101.8"/><use href="#m1" x="295.47" y="101.8"/><use href="#m1" x="296.66" y="101.8"/><use href="#m1" x="297.85" y="101.8"/><use href="#m1" x="299.05" y="101.8"/><use href="#m1" x="300.24" y="101.8"/><use href="#m1" x="301.43" y="101.8"/><use href="#m1" x="302.62" y="101.8"/><use href="#m1" x="303.81" y="101.8"/><use href="#m1" x="305" y="101.8"/><use href="#m1" x="306.19" y="101.8"/><use href="#m1" x="307.38" y="101.8"/><use href="#m1" x="308.57" y="101.8"/><use href="#m1" x="309.77" y="101.8"/><use href="#m1" x="310.96" y="101.8"/><use href="#m1" x="312.15" y="101.8"/><use href="#m1" x="313.34" y="101.8"/><use href="#m1" x="314.53" y="101.8"/><use href="#m1" x="315.72" y="101.8"/><use href="#m1" x="316.91" y="101.8"/><use href="#m1" x="318.1" y="101.8"/><use href="#m1" x="319.29" y="101.8"/><use href="#m1" x="320.49" y="101.8"/><use href="#m1" x="321.68" y="101.8"/><use href="#m1" x="322.87" y="101.8"/><use href="#m1" x="324.06" y="101.8"/><use href="#m1" x="325.25" y="101.8"/><use href="#m1" x="326.44" y="101.8"/><use href="#m1" x="327.63" y="101.8"/><use href="#m1" x="328.82" y="101.8"/><use href="#m1" x="330.01" y="101.8"/><use href="#m1" x="331.21" y="101.8"/><use href="#m1" x="332.4" y="101.8"/><use href="#m1" x="333.59" y="101.8"/><use href="#m1" x="334.78" y="101.8"/><use href="#m1" x="335.97" y="101.8"/><use href="#m1" x="337.16" y="101.8"/><use href="#m1" x="338.35" y="101.8"/><use href="#m1" x="339.54" y="101.8"/><use href="#m1" x="340.73" y="101.8"/><use href="#m1" x="341.93" y="101.8"/><use href="#m1" x="343.12" y="101.8"/><use href="#m1" x="344.31" y="101.8"/><use href="#m1" x="345.5" y="101.8"/><use href="#m1" x="346.69" y="101.8"/><use href="#m1" x="347.88" y="101.8"/><use href="#m1" x="349.07" y="101.8"/><use href="#m1" x="350.26" y="101.8"/><use href="#m1" x="351.45" y="101.8"/><use href="#m1" x="352.65" y="101.8"/><use href="#m1" x="353.84" y="101.8"/><use href="#m1" x="355.03" y="101.8"/><use href="#m1" x="356.22" y="101.8"/><use href="#m1" x="357.41" y="101.8"/><use href="#m1" x="358.6" y="101.8"/><use href="#m1" x="359.79" y="101.8"/><use href="#m1" x="360.98" y="101.8"/><use href="#m1" x="362.17" y="101.8"/><use href="#m1" x="363.37" y="101.8"/><use href="#m1" x="364.56" y="101.8"/><use href="#m1" x="365.75" y="101.8"/><use href="#m1" x="366.94" y="101.8"/><use href="#m1" x="368.13" y="101.8"/><use href="#m1" x="369.32" y="101.8"/><use href="#m1" x="370.51" y="101.8"/><use href="#m1" x="371.7" y="101.8"/><use href="#m1" x="372.89" y="101.8"/><use href="#m1" x="374.08" y="101.8"/><use href="#m1" x="375.28" y="101.8"/><use href="#m1" x="376.47" y="101.8"/><use href="#m1" x="377.66" y="101.8"/><use href="#m1" x="378.85" y="101.8"/><use href="#m1" x="380.04" y="101.8"/><use href="#m1" x="381.23" y="101.8"/><use href="#m1" x="382.42" y="101.8"/><use href="#m1" x="383.61" y="101.8"/><use href="#m1" x="384.8" y="101.8"/><use href="#m1" x="386" y="101.8"/><use href="#m1" x="387.19" y="101.8"/><use href="#m1" x="388.38" y="101.8"/><use href="#m1" x="389.57" y="101.8"/><use href="#m1" x="390.76" y="101.8"/><use href="#m1" x="391.95" y="101.8"/><use href="#m1" x="393.14" y="101.8"/><use href="#m1" x="394.33" y="101.8"/><use href="#m1" x="395.52" y="101.8"/><use href="#m1" x="396.72" y="101.8"/><use href="#m1" x="397.91" y="101.8"/><use href="#m1" x="399.1" y="101.8"/><use href="#m1" x="400.29" y="101.8"/><use href="#m1" x="401.48" y="101.8"/><use href="#m1" x="402.67" y="101.8"/><use href="#m1" x="403.86" y="101.8"/><use href="#m1" x="405.05" y="101.8"/><use href="#m1" x="406.24" y="101.8"/><use href="#m1" x="407.44" y="101.8"/><use href="#m1" x="408.63" y="101.8"/><use href="#m1" x="409.82" y="101.8"/><use href="#m1" x="411.01" y="101.8"/><use href="#m1" x="412.2" y="101.8"/><use href="#m1" x="413.39" y="101.8"/><use href="#m1" x="414.58" y="101.8"/><use href="#m1" x="415.77" y="101.8"/><use href="#m1" x="416.96" y="101.8"/><use href="#m1" x="418.16" y="101.8"/><use href="#m1" x="419.35" y="101.8"/><use href="#m1" x="420.54" y="101.8"/><use href="#m1" x="421.73" y="101.8"/><use href="#m1" x="422.92" y="101.8"/><use href="#m1" x="424.11" y="101.8"/><use href="#m1" x="425.3" y="101.8"/><use href="#m1" x="426.49" y="101.8"/><use href="#m1" x="427.68" y="101.8"/><use href="#m1" x="428.88" y="101.8"/><use href="#m1" x="430.07" y="101.8"/><use href="#m1" x="431.26" y="101.8"/><use href="#m1" x="432.45" y="101.8"/><use href="#m1" x="433.64" y="101.8"/><use href="#m1" x="434.83" y="101.8"/><use href="#m1" x="436.02" y="101.8"/><use href="#m1" x="437.21" y="101.8"/><use href="#m1" x="438.4" y="101.8"/><use href="#m1" x="439.6" y="101.8"/><use href="#m1" x="440.79" y="101.8"/><use href="#m1" x="441.98" y="101.8"/><use href="#m1" x="443.17" y="101.8"/><use href="#m1" x="444.36" y="101.8"/><use href="#m1" x="445.55" y="101.8"/><use href="#m1" x="446.74" y="101.8"/><use href="#m1" x="447.93" y="101.8"/><use href="#m1" x="449.12" y="101.8"/><use href="#m1" x="450.32" y="101.8"/><use href="#m1" x="451.51" y="101.8"/><use href="#m1" x="452.7" y="101.8"/><use href="#m1" x="453.89" y="101.8"/><use href="#m1" x="455.08" y="101.8"/><use href="#m1" x="456.27" y="101.8"/><use href="#m1" x="457.46" y="101.8"/><use href="#m1" x="458.65" y="101.8"/><use href="#m1" x="459.84" y="101.8"/><use href="#m1" x="461.04" y="101.8"/><use href="#m1" x="462.23" y="101.8"/><use href="#m1" x="463.42" y="101.8"/><use href="#m1" x="464.61" y="101.8"/><use href="#m1" x="465.8" y="101.8"/><use href="#m1" x="466.99" y="101.8"/><use href="#m1" x="468.18" y="101.8"/><use href="#m1" x="469.37" y="101.8"/><use href="#m1" x="470.56" y="101.8"/><use href="#m1" x="471.76" y="101.8"/><use href="#m1" x="472.95" y="101.8"/><use href="#m1" x="474.14" y="101.8"/><use href="#m1" x="475.33" y="101.8"/><use href="#m1" x="476.52" y="101.8"/><use href="#m1" x="477.71" y="101.8"/><use href="#m1" x="478.9" y="101.8"/><use href="#m1" x="480.09" y="101.8"/><use href="#m1" x="481.28" y="101.8"/><use href="#m1" x="482.48" y="101.8"/><use href="#m1" x="483.67" y="101.8"/><use href="#m1" x="484.86" y="101.8"/><use href="#m1" x="486.05" y="101.8"/><use href="#m1" x="487.24" y="101.8"/><use href="#m1" x="488.43" y="101.8"/><use href="#m1" x="489.62" y="101.8"/><use href="#m1" x="490.81" y="101.8"/><use href="#m1" x="492" y="101.8"/><use href="#m1" x="493.19" y="101.8"/><use href="#m1" x="494.39" y="101.8"/><use href="#m1" x="495.58" y="101.8"/><use href="#m1" x="496.77" y="101.8"/><use href="#m1" x="497.96" y="101.8"/><use href="#m1" x="499.15" y="101.8"/><use href="#m1" x="500.34" y="101.8"/><use href="#m1" x="501.53" y="101.8"/><use href="#m1" x="502.72" y="101.8"/><use href="#m1" x="503.91" y="101.8"/><use href="#m1" x="505.11" y="101.8"/><use href="#m1" x="506.3" y="101.8"/><use href="#m1" x="507.49" y="101.8"/><use href="#m1" x="508.68" y="101.8"/><use href="#m1" x="509.87" y="101.8"/><use href="#m1" x="511.06" y="101.8"/><use href="#m1" x="512.25" y="101.8"/><use href="#m1" x="513.44" y="101.8"/><use href="#m1" x="514.63" y="101.8"/><use href="#m1" x="515.83" y="101.8"/><use href="#m1" x="517.02" y="101.8"/><use href="#m1" x="518.21" y="101.8"/><use href="#m1" x="519.4" y="101.8"/><use href="#m1" x="520.59" y="101.8"/><use href="#m1" x="521.78" y="101.8"/><use href="#m1" x="522.97" y="101.8"/><use href="#m1" x="524.16" y="101.8"/><use href="#m1" x="525.35" y="101.8"/><use href="#m1" x="526.55" y="101.8"/><use href="#m1" x="527.74" y="101.8"/><use href="#m1" x="528.93" y="101.8"/><use href="#m1" x="530.12" y="101.8"/><use href="#m1" x="531.31" y="101.8"/><use href="#m1" x="532.5" y="101.8"/><use href="#m1" x="533.69" y="101.8"/><use href="#m1" x="534.88" y="101.8"/><use href="#m1" x="536.07" y="101.8"/><use href="#m1" x="537.27" y="101.8"/><use href="#m1" x="538.46" y="101.8"/><use href="#m1" x="539.65" y="101.8"/><use href="#m1" x="540.84" y="101.8"/><use href="#m1" x="542.03" y="101.8"/><use href="#m1" x="543.22" y="101.8"/><use href="#m1" x="544.41" y="101.8"/><use href="#m1" x="545.6" y="101.8"/><use href="#m1" x="546.79" y="101.8"/><use href="#m1" x="547.99" y="101.8"/><use href="#m1" x="549.18" y="101.8"/><use href="#m1" x="550.37" y="101.8"/><use href="#m1" x="551.56" y="101.8"/><use href="#m1" x="552.75" y="101.8"/><use href="#m1" x="553.94" y="101.8"/><use href="#m1" x="555.13" y="101.8"/><use href="#m1" x="556.32" y="101.8"/><use href="#m1" x="557.51" y="101.8"/><use href="#m1" x="558.71" y="101.8"/><use href="#m1" x="559.9" y="101.8"/><use href="#m1" x="561.09" y="101.8"/><use href="#m1" x="562.28" y="101.8"/><use href="#m1" x="563.47" y="101.8"/><use href="#m1" x="564.66" y="101.8"/><use href="#m1" x="565.85" y="101.8"/><use href="#m1" x="567.04" y="101.8"/><use href="#m1" x="568.23" y="101.8"/><use href="#m1" x="569.43" y="101.8"/><use href="#m1" x="570.62" y="101.8"/><use href="#m1" x="571.81" y="101.8"/><use href="#m1" x="573" y="101.8"/><use href="#m1" x="574.19" y="101.8"/><use href="#m1" x="575.38" y="101.8"/><use href="#m1" x="576.57" y="101.8"/><use href="#m1" x="577.76" y="101.8"/><use href="#m1" x="578.95" y="101.8"/><use href="#m1" x="580.15" y="101.8"/><use href="#m1" x="581.34" y="101.8"/><use href="#m1" x="582.53" y="101.8"/><use href="#m1" x="583.72" y="101.8"/><use href="#m1" x="584.91" y="101.8"/><use href="#m1" x="586.1" y="101.8"/><use href="#m1" x="587.29" y="101.8"/><use href="#m1" x="588.48" y="101.8"/><use href="#m1" x="589.67" y="101.8"/><use href="#m1" x="590.87" y="101.8"/><use href="#m1" x="592.06" y="101.8"/><use href="#m1" x="593.25" y="101.8"/><use href="#m1" x="594.44" y="101.8"/><use href="#m1" x="595.63" y="101.8"/><use href="#m1" x="596.82" y="101.8"/><use href="#m1" x="598.01" y="101.8"/><use href="#m1" x="599.2" y="101.8"/><use href="#m1" x="600.39" y="101.8"/><use href="#m1" x="601.59" y="101.8"/><use href="#m1" x="602.78" y="101.8"/><use href="#m1" x="603.97" y="101.8"/><use href="#m1" x="605.16" y="101.8"/><use href="#m1" x="606.35" y="101.8"/><use href="#m1" x="607.54" y="101.8"/><use href="#m1" x="608.73" y="101.8"/><use href="#m1" x="609.92" y="101.8"/><use href="#m1" x="611.11" y="101.8"/><use href="#m1" x="612.3" y="101.8"/><use href="#m1" x="613.5" y="101.8"/><use href="#m1" x="614.69" y="101.8"/><use href="#m1" x="615.88" y="101.8"/><use href="#m1" x="617.07" y="101.8"/><use href="#m1" x="618.26" y="101.8"/><use href="#m1" x="619.45" y="101.8"/><use href="#m1" x="620.64" y="101.8"/><use href="#m1" x="621.83" y="101.8"/><use href="#m1" x="623.02" y="101.8"/><use href="#m1" x="624.22" y="101.8"/><use href="#m1" x="625.41" y="101.8"/><use href="#m1" x="626.6" y="101.8"/><use href="#m1" x="627.79" y="101.8"/><use href="#m1" x="628.98" y="101.8"/><use href="#m1" x="630.17" y="101.8"/><use href="#m1" x="631.36" y="101.8"/><use href="#m1" x="632.55" y="101.8"/><use href="#m1" x="633.74" y="101.8"/><use href="#m1" x="634.94" y="101.8"/><use href="#m1" x="636.13" y="101.8"/><use href="#m1" x="637.32" y="101.8"/><use href="#m1" x="638.51" y="101.8"/><use href="#m1" x="639.7" y="101.8"/><use href="#m1" x="640.89" y="101.8"/><use href="#m1" x="642.08" y="101.8"/><use href="#m1" x="643.27" y="101.8"/><use href="#m1" x="644.46" y="101.8"/><use href="#m1" x="645.66" y="101.8"/><use href="#m1" x="646.85" y="101.8"/><use href="#m1" x="648.04" y="101.8"/><use href="#m1" x="649.23" y="101.8"/><use href="#m1" x="650.42" y="101.8"/><use href="#m1" x="651.61" y="101.8"/><use href="#m1" x="652.8" y="101.8"/><use href="#m1" x="653.99" y="101.8"/><use href="#m1" x="655.18" y="101.8"/><use href="#m1" x="656.38" y="101.8"/><use href="#m1" x="657.57" y="101.8"/><use href="#m1" x="658.76" y="101.8"/><use href="#m1" x="659.95" y="101.8"/>
</g>
<g>
<polyline clip-path="url(#ax)" points="102.51,-204.71 103.71,-185.14 104.9,-165.58 106.09,-146.01 107.28,-126.45 108.47,-106.89 109.66,-87.32 110.85,-67.76 112.04,-48.19 113.23,-28.63 114.43,-9.06 115.62,10.5 116.81,30.06 118,49.63 119.19,69.19 120.38,88.76 121.57,108.32 122.76,127.89 123.95,147.45 125.15,147.45 126.34,147.45 127.53,147.45 128.72,147.45 129.91,147.45 131.1,147.45 132.29,147.45 133.48,147.45 134.67,147.45 135.86,147.45 137.06,147.45 138.25,147.45 139.44,147.45 140.63,147.45 141.82,147.45 143.01,147.45 144.2,147.45 145.39,147.45 146.58,147.45 147.78,147.45 148.97,147.45 150.16,147.45 151.35,147.45 152.54,147.45 153.73,147.45 154.92,147.45 156.11,147.45 157.3,147.45 158.5,147.45 159.69,147.45 160.88,147.45 162.07,147.45 163.26,147.45 164.45,147.45 165.64,147.45 166.83,147.45 168.02,147.45 169.22,147.45 170.41,147.45 171.6,147.45 172.79,147.45 173.98,147.45 175.17,147.45 176.36,147.45 177.55,147.45 178.74,147.45 179.94,147.45 181.13,147.45 182.32,147.45 183.51,147.45 184.7,147.45 185.89,147.45 187.08,147.45 188.27,147.45 189.46,147.45 190.66,147.45 191.85,147.45 193.04,147.45 194.23,147.45 195.42,147.45 196.61,147.45 197.8,147.45 198.99,147.45 200.18,147.45 201.38,147.45 202.57,147.45 203.76,147.45 204.95,147.45 206.14,147.45 207.33,147.45 208.52,147.45 209.71,147.45 210.9,147.45 212.1,147.45 213.29,147.45 214.48,147.45 215.67,147.45 216.86,147.45 218.05,147.45 219.24,147.45 220.43,147.45 221.62,147.45 222.82,147.45 224.01,147.45 225.2,147.45 226.39,147.45 227.58,147.45 228.77,147.45 229.96,147.45 231.15,147.45 232.34,147.45 233.54,147.45 234.73,147.45 235.92,147.45 237.11,147.45 238.3,147.45 239.49,147.45 240.68,147.45 241.87,147.45 243.06,147.45 244.26,147.45 245.45,147.45 246.64,147.45 247.83,147.45 249.02,147.45 250.21,147.45 251.4,147.45 252.59,147.45 253.78,147.45 254.97,147.45 256.17,147.45 257.36,147.45 258.55,147.45 259.74,147.45 260.93,147.45 262.12,147.45 263.31,147.45 264.5,147.45 265.69,147.45 266.89,147.45 268.08,147.45 269.27,147.45 270.46,147.45 271.65,147.45 272.84,147.45 274.03,147.45 275.22,147.45 276.41,147.45 277.61,147.45 278.8,147.45 279.99,147.45 281.18,147.45 282.37,147.45 283.56,147.45 284.75,147.45 285.94,147.45 287.13,147.45 288.33,147.45 289.52,147.45 290.71,147.45 291.9,147.45 293.09,147.45 294.28,147.45 295.47,147.45 296.66,147.45 297.85,147.45 299.05,147.45 300.24,147.45 301.43,147.45 302.62,147.45 303.81,147.45 305,147.45 306.19,147.45 307.38,147.45 308.57,147.45 309.77,147.45 310.96,147.45 312.15,147.45 313.34,147.45 314.53,147.45 315.72,147.45 316.91,147.45 318.1,147.45 319.29,147.45 320.49,147.45 321.68,147.45 322.87,147.45 324.06,147.45 325.25,147.45 326.44,147.45 327.63,147.45 328.82,147.45 330.01,147.45 331.21,147.45 332.4,147.45 333.59,147.45 334.78,147.45 335.97,147.45 337.16,147.45 338.35,147.45 339.54,147.45 340.73,147.45 341.93,147.45 343.12,147.45 344.31,147.45 345.5,147.45 346.69,147.45 347.88,147.45 349.07,147.45 350.26,147.45 351.45,147.45 352.65,147.45 353.84,147.45 355.03,147.45 356.22,147.45 357.41,147.45 358.6,147.45 359.79,147.45 360.98,147.45 362.17,147.45 363.37,147.45 364.56,147.45 365.75,147.45 366.94,147.45 368.13,147.45 369.32,147.45 370.51,147.45 371.7,147.45 372.89,147.45 374.08,147.45 375.28,147.45 376.47,147.45 377.66,147.45 378.85,147.45 380.04,147.45 381.23,147.45 382.42,147.45 383.61,147.45 384.8,147.45 386,147.45 387.19,147.45 388.38,147.45 389.57,147.45 390.76,147.45 391.95,147.45 393.14,147.45 394.33,147.45 395.52,147.45 396.72,147.45 397.91,147.45 399.1,147.45 400.29,147.45 401.48,147.45 402.67,147.45 403.86,147.45 405.05,147.45 406.24,147.45 407.44,147.45 408.63,147.45 409.82,147.45 411.01,147.45 412.2,147.45 413.39,147.45 414.58,147.45 415.77,147.45 416.96,147.45 418.16,147.45 419.35,147.45 420.54,147.45 421.73,147.45 422.92,147.45 424.11,147.45 425.3,147.45 426.49,147.45 427.68,147.45 428.88,147.45 430.07,147.45 431.26,147.45 432.45,147.45 433.64,147.45 434.83,147.45 436.02,147.45 437.21,147.45 438.4,147.45 439.6,147.45 440.79,147.45 441.98,147.45 443.17,147.45 444.36,147.45 445.55,147.45 446.74,147.45 447.93,147.45 449.12,147.45 450.32,147.45 451.51,147.45 452.7,147.45 453.89,147.45 455.08,147.45 456.27,147.45 457.46,147.45 458.65,147.45 459.84,147.45 461.04,147.45 462.23,147.45 463.42,147.45 464.61,147.45 465.8,147.45 466.99,147.45 468.18,147.45 469.37,147.45 470.56,147.45 471.76,147.45 472.95,147.45 474.14,147.45 475.33,147.45 476.52,147.45 477.71,147.45 478.9,147.45 480.09,147.45 481.28,147.45 482.48,147.45 483.67,147.45 484.86,147.45 486.05,147.45 487.24,147.45 488.43,147.45 489.62,147.45 490.81,147.45 492,147.45 493.19,147.45 494.39,147.45 495.58,147.45 496.77,147.45 497.96,147.45 499.15,147.45 500.34,147.45 501.53,147.45 502.72,147.45 503.91,147.45 505.11,147.45 506.3,147.45 507.49,147.45 508.68,147.45 509.87,147.45 511.06,147.45 512.25,147.45 513.44,147.45 514.63,147.45 515.83,147.45 517.02,147.45 518.21,147.45 519.4,147.45 520.59,147.45 521.78,147.45 522.97,147.45 524.16,147.45 525.35,147.45 526.55,147.45 527.74,147.45 528.93,147.45 530.12,147.45 531.31,147.45 532.5,147.45 533.69,147.45 534.88,147.45 536.07,147.45 537.27,147.45 538.46,147.45 539.65,147.45 540.84,147.45 542.03,147.45 543.22,147.45 544.41,147.45 545.6,147.45 546.79,147.45 547.99,147.45 549.18,147.45 550.37,147.45 551.56,147.45 552.75,147.45 553.94,147.45 555.13,147.45 556.32,147.45 557.51,147.45 558.71,147.45 559.9,147.45 561.09,147.45 562.28,147.45 563.47,147.45 564.66,147.45 565.85,147.45 567.04,147.45 568.23,147.45 569.43,147.45 570.62,147.45 571.81,147.45 573,147.45 574.19,147.45 575.38,147.45 576.57,147.45 577.76,147.45 578.95,147.45 580.15,147.45 581.34,147.45 582.53,147.45 583.72,147.45 584.91,147.45 586.1,147.45 587.29,147.45 588.48,147.45 589.67,147.45 590.87,147.45 592.06,147.45 593.25,147.45 594.44,147.45 595.63,147.45 596.82,147.45 598.01,147.45 599.2,147.45 600.39,147.45 601.59,147.45 602.78,147.45 603.97,147.45 605.16,147.45 606.35,147.45 607.54,147.45 608.73,147.45 609.92,147.45 611.11,147.45 612.3,147.45 613.5,147.45 614.69,147.45 615.88,147.45 617.07,147.45 618.26,147.45 619.45,147.45 620.64,147.45 621.83,147.45 623.02,147.45 624.22,147.45 625.41,147.45 626.6,147.45 627.79,147.45 628.98,147.45 630.17,147.45 631.36,147.45 632.55,147.45 633.74,147.45 634.94,147.45 636.13,147.45 637.32,147.45 638.51,147.45 639.7,147.45 640.89,147.45 642.08,147.45 643.27,147.45 644.46,147.45 645.66,147.45 646.85,147.45 648.04,147.45 649.23,147.45 650.42,147.45 651.61,147.45 652.8,147.45 653.99,147.45 655.18,147.45 656.38,147.45 657.57,147.45 658.76,147.45 659.95,147.45" fill="none" stroke="#00FF00" stroke-width="2.5" stroke-linejoin="round"/>
<use href="#m2" x="115.62" y="10.5"/><use href="#m2" x="116.81" y="30.06"/><use href="#m2" x="118" y="49.63"/><use href="#m2" x="119.19" y="69.19"/><use href="#m2" x="120.38" y="88.76"/><use href="#m2" x="121.57" y="108.32"/><use href="#m2" x="122.76" y="127.89"/><use href="#m2" x="123.95" y="147.45"/><use href="#m2" x="125.15" y="147.45"/><use href="#m2" x="126.34" y="147.45"/><use href="#m2" x="127.53" y="147.45"/><use href="#m2" x="128.72" y="147.45"/><use href="#m2" x="129.91" y="147.45"/><use href="#m2" x="131.1" y="147.45"/><use href="#m2" x="132.29" y="147.45"/><use href="#m2" x="133.48" y="147.45"/><use href="#m2" x="134.67" y="147.45"/><use href="#m2" x="135.86" y="147.45"/><use href="#m2" x="137.06" y="147.45"/><use href="#m2" x="138.25" y="147.45"/><use href="#m2" x="139.44" y="147.45"/><use href="#m2" x="140.63" y="147.45"/><use href="#m2" x="141.82" y="147.45"/><use href="#m2" x="143.01" y="147.45"/><use href="#m2" x="144.2" y="147.45"/><use href="#m2" x="145.39" y="147.45"/><use href="#m2" x="146.58" y="147.45"/><use href="#m2" x="147.78" y="147.45"/><use href="#m2" x="148.97" y="147.45"/><use href="#m2" x="150.16" y="147.45"/><use href="#m2" x="151.35" y="147.45"/><use href="#m2" x="152.54" y="147.45"/><use href="#m2" x="153.73" y="147.45"/><use href="#m2" x="154.92" y="147.45"/><use href="#m2" x="156.11" y="147.45"/><use href="#m2" x="157.3" y="147.45"/><use href="#m2" x="158.5" y="147.45"/><use href="#m2" x="159.69" y="147.45"/><use href="#m2" x="160.88" y="147.45"/><use href="#m2" x="162.07" y="147.45"/><use href="#m2" x="163.26" y="147.45"/><use href="#m2" x="164.45" y="147.45"/><use href="#m2" x="165.64" y="147.45"/><use href="#m2" x="166.83" y="147.45"/><use href="#m2" x="168.02" y="147.45"/><use href="#m2" x="169.22" y="147.45"/><use href="#m2" x="170.41" y="147.45"/><use href="#m2" x="171.6" y="147.45"/><use href="#m2" x="172.79" y="147.45"/><use href="#m2" x="173.98" y="147.45"/><use href="#m2" x="175.17" y="147.45"/><use href="#m2" x="176.36" y="147.45"/><use href="#m2" x="177.55" y="147.45"/><use href="#m2" x="178.74" y="147.45"/><use href="#m2" x="179.94" y="147.45"/><use href="#m2" x="181.13" y="147.45"/><use href="#m2" x="182.32" y="147.45"/><use href="#m2" x="183.51" y="147.45"/><use href="#m2" x="184.7" y="147.45"/><use href="#m2" x="185.89" y="147.45"/><use href="#m2" x="187.08" y="147.45"/><use href="#m2" x="188.27" y="147.45"/><use href="#m2" x="189.46" y="147.45"/><use href="#m2" x="190.66" y="147.45"/><use href="#m2" x="191.85" y="147.45"/><use href="#m2" x="193.04" y="147.45"/><use href="#m2" x="194.23" y="147.45"/><use href="#m2" x="195.42" y="147.45"/><use href="#m2" x="196.61" y="147.45"/><use href="#m2" x="197.8" y="147.45"/><use href="#m2" x="198.99" y="147.45"/><use href="#m2" x="200.18" y="147.45"/><use href="#m2" x="201.38" y="147.45"/><use href="#m2" x="202.57" y="147.45"/><use href="#m2" x="203.76" y="147.45"/><use href="#m2" x="204.95" y="147.45"/><use href="#m2" x="206.14" y="147.45"/><use href="#m2" x="207.33" y="147.45"/><use href="#m2" x="208.52" y="147.45"/><use href="#m2" x="209.71" y="147.45"/><use href="#m2" x="210.9" y="147.45"/><use href="#m2" x="212.1" y="147.45"/><use href="#m2" x="213.29" y="147.45"/><use href="#m2" x="214.48" y="147.45"/><use href="#m2" x="215.67" y="147.45"/><use href="#m2" x="216.86" y="147.45"/><use href="#m2" x="218.05" y="147.45"/><use href="#m2" x="219.24" y="147.45"/><use href="#m2" x="220.43" y="147.45"/><use href="#m2" x="221.62" y="147.45"/><use href="#m2" x="222.82" y="147.45"/><use href="#m2" x="224.01" y="147.45"/><use href="#m2" x="225.2" y="147.45"/><use href="#m2" x="226.39" y="147.45"/><use href="#m2" x="227.58" y="147.45"/><use href="#m2" x="228.77" y="147.45"/><use href="#m2" x="229.96" y="147.45"/><use href="#m2" x="231.15" y="147.45"/><use href="#m2" x="232.34" y="147.45"/><use href="#m2" x="233.54" y="147.45"/><use href="#m2" x="234.73" y="147.45"/><use href="#m2" x="235.92" y="147.45"/><use href="#m2" x="237.11" y="147.45"/><use href="#m2" x="238.3" y="147.45"/><use href="#m2" x="239.49" y="147.45"/><use href="#m2" x="240.68" y="147.45"/><use href="#m2" x="241.87" y="147.45"/><use href="#m2" x="243.06" y="147.45"/><use href="#m2" x="244.26" y="147.45"/><use href="#m2" x="245.45" y="147.45"/><use href="#m2" x="246.64" y="147.45"/><use href="#m2" x="247.83" y="147.45"/><use href="#m2" x="249.02" y="147.45"/><use href="#m2" x="250.21" y="147.45"/><use href="#m2" x="251.4" y="147.45"/><use href="#m2" x="252.59" y="147.45"/><use href="#m2" x="253.78" y="147.45"/><use href="#m2" x="254.97" y="147.45"/><use href="#m2" x="256.17" y="147.45"/><use href="#m2" x="257.36" y="147.45"/><use href="#m2" x="258.55" y="147.45"/><use href="#m2" x="259.74" y="147.45"/><use href="#m2" x="260.93" y="147.45"/><use href="#m2" x="262.12" y="147.45"/><use href="#m2" x="263.31" y="147.45"/><use href="#m2" x="264.5" y="147.45"/><use href="#m2" x="265.69" y="147.45"/><use href="#m2" x="266.89" y="147.45"/><use href="#m2" x="268.08" y="147.45"/><use href="#m2" x="269.27" y="147.45"/><use href="#m2" x="270.46" y="147.45"/><use href="#m2" x="271.65" y="147.45"/><use href="#m2" x="272.84" y="147.45"/><use href="#m2" x="274.03" y="147.45"/><use href="#m2" x="275.22" y="147.45"/><use href="#m2" x="276.41" y="147.45"/><use href="#m2" x="277.61" y="147.45"/><use href="#m2" x="278.8" y="147.45"/><use href="#m2" x="279.99" y="147.45"/><use href="#m2" x="281.18" y="147.45"/><use href="#m2" x="282.37" y="147.45"/><use href="#m2" x="283.56" y="147.45"/><use href="#m2" x="284.75" y="147.45"/><use href="#m2" x="285.94" y="147.45"/><use href="#m2" x="287.13" y="147.45"/><use href="#m2" x="288.33" y="147.45"/><use href="#m2" x="289.52" y="147.45"/><use href="#m2" x="290.71" y="147.45"/><use href="#m2" x="291.9" y="147.45"/><use href="#m2" x="293.09" y="147.45"/><use href="#m2" x="294.28" y="147.45"/><use href="#m2" x="295.47" y="147.45"/><use href="#m2" x="296.66" y="147.45"/><use href="#m2" x="297.85" y="147.45"/><use href="#m2" x="299.05" y="147.45"/><use href="#m2" x="300.24" y="147.45"/><use href="#m2" x="301.43" y="147.45"/><use href="#m2" x="302.62" y="147.45"/><use href="#m2" x="303.81" y="147.45"/><use href="#m2" x="305" y="147.45"/><use href="#m2" x="306.19" y="147.45"/><use href="#m2" x="307.38" y="147.45"/><use href="#m2" x="308.57" y="147.45"/><use href="#m2" x="309.77" y="147.45"/><use href="#m2" x="310.96" y="147.45"/><use href="#m2" x="312.15" y="147.45"/><use href="#m2" x="313.34" y="147.45"/><use href="#m2" x="314.53" y="147.45"/><use href="#m2" x="315.72" y="147.45"/><use href="#m2" x="316.91" y="147.45"/><use href="#m2" x="318.1" y="147.45"/><use href="#m2" x="319.29" y="147.45"/><use href="#m2" x="320.49" y="147.45"/><use href="#m2" x="321.68" y="147.45"/><use href="#m2" x="322.87" y="147.45"/><use href="#m2" x="324.06" y="147.45"/><use href="#m2" x="325.25" y="147.45"/><use href="#m2" x="326.44" y="147.45"/><use href="#m2" x="327.63" y="147.45"/><use href="#m2" x="328.82" y="147.45"/><use href="#m2" x="330.01" y="147.45"/><use href="#m2" x="331.21" y="147.45"/><use href="#m2" x="332.4" y="147.45"/><use href="#m2" x="333.59" y="147.45"/><use href="#m2" x="334.78" y="147.45"/><use href="#m2" x="335.97" y="147.45"/><use href="#m2" x="337.16" y="147.45"/><use href="#m2" x="338.35" y="147.45"/><use href="#m2" x="339.54" y="147.45"/><use href="#m2" x="340.73" y="147.45"/><use href="#m2" x="341.93" y="147.45"/><use href="#m2" x="343.12" y="147.45"/><use href="#m2" x="344.31" y="147.45"/><use href="#m2" x="345.5" y="147.45"/><use href="#m2" x="346.69" y="147.45"/><use href="#m2" x="347.88" y="147.45"/><use href="#m2" x="349.07" y="147.45"/><use href="#m2" x="350.26" y="147.45"/><use href="#m2" x="351.45" y="147.45"/><use href="#m2" x="352.65" y="147.45"/><use href="#m2" x="353.84" y="147.45"/><use href="#m2" x="355.03" y="147.45"/><use href="#m2" x="356.22" y="147.45"/><use href="#m2" x="357.41" y="147.45"/><use href="#m2" x="358.6" y="147.45"/><use href="#m2" x="359.79" y="147.45"/><use href="#m2" x="360.98" y="147.45"/><use href="#m2" x="362.17" y="147.45"/><use href="#m2" x="363.37" y="147.45"/><use href="#m2" x="364.56" y="147.45"/><use href="#m2" x="365.75" y="147.45"/><use href="#m2" x="366.94" y="147.45"/><use href="#m2" x="368.13" y="147.45"/><use href="#m2" x="369.32" y="147.45"/><use href="#m2" x="370.51" y="147.45"/><use href="#m2" x="371.7" y="147.45"/><use href="#m2" x="372.89" y="147.45"/><use href="#m2" x="374.08" y="147.45"/><use href="#m2" x="375.28" y="147.45"/><use href="#m2" x="376.47" y="147.45"/><use href="#m2" x="377.66" y="147.45"/><use href="#m2" x="378.85" y="147.45"/><use href="#m2" x="380.04" y="147.45"/><use href="#m2" x="381.23" y="147.45"/><use href="#m2" x="382.42" y="147.45"/><use href="#m2" x="383.61" y="147.45"/><use href="#m2" x="384.8" y="147.45"/><use href="#m2" x="386" y="147.45"/><use href="#m2" x="387.19" y="147.45"/><use href="#m2" x="388.38" y="147.45"/><use href="#m2" x="389.57" y="147.45"/><use href="#m2" x="390.76" y="147.45"/><use href="#m2" x="391.95" y="147.45"/><use href="#m2" x="393.14" y="147.45"/><use href="#m2" x="394.33" y="147.45"/><use href="#m2" x="395.52" y="147.45"/><use href="#m2" x="396.72" y="147.45"/><use href="#m2" x="397.91" y="147.45"/><use href="#m2" x="399.1" y="147.45"/><use href="#m2" x="400.29" y="147.45"/><use href="#m2" x="401.48" y="147.45"/><use href="#m2" x="402.67" y="147.45"/><use href="#m2" x="403.86" y="147.45"/><use href="#m2" x="405.05" y="147.45"/><use href="#m2" x="406.24" y="147.45"/><use href="#m2" x="407.44" y="147.45"/><use href="#m2" x="408.63" y="147.45"/><use href="#m2" x="409.82" y="147.45"/><use href="#m2" x="411.01" y="147.45"/><use href="#m2" x="412.2" y="147.45"/><use href="#m2" x="413.39" y="147.45"/><use href="#m2" x="414.58" y="147.45"/><use href="#m2" x="415.77" y="147.45"/><use href="#m2" x="416.96" y="147.45"/><use href="#m2" x="418.16" y="147.45"/><use href="#m2" x="419.35" y="147.45"/><use href="#m2" x="420.54" y="147.45"/><use href="#m2" x="421.73" y="147.45"/><use href="#m2" x="422.92" y="147.45"/><use href="#m2" x="424.11" y="147.45"/><use href="#m2" x="425.3" y="147.45"/><use href="#m2" x="426.49" y="147.45"/><use href="#m2" x="427.68" y="147.45"/><use href="#m2" x="428.88" y="147.45"/><use href="#m2" x="430.07" y="147.45"/><use href="#m2" x="431.26" y="147.45"/><use href="#m2" x="432.45" y="147.45"/><use href="#m2" x="433.64" y="147.45"/><use href="#m2" x="434.83" y="147.45"/><use href="#m2" x="436.02" y="147.45"/><use href="#m2" x="437.21" y="147.45"/><use href="#m2" x="438.4" y="147.45"/><use href="#m2" x="439.6" y="147.45"/><use href="#m2" x="440.79" y="147.45"/><use href="#m2" x="441.98" y="147.45"/><use href="#m2" x="443.17" y="147.45"/><use href="#m2" x="444.36" y="147.45"/><use href="#m2" x="445.55" y="147.45"/><use href="#m2" x="446.74" y="147.45"/><use href="#m2" x="447.93" y="147.45"/><use href="#m2" x="449.12" y="147.45"/><use href="#m2" x="450.32" y="147.45"/><use href="#m2" x="451.51" y="147.45"/><use href="#m2" x="452.7" y="147.45"/><use href="#m2" x="453.89" y="147.45"/><use href="#m2" x="455.08" y="147.45"/><use href="#m2" x="456.27" y="147.45"/><use href="#m2" x="457.46" y="147.45"/><use href="#m2" x="458.65" y="147.45"/><use href="#m2" x="459.84" y="147.45"/><use href="#m2" x="461.04" y="147.45"/><use href="#m2" x="462.23" y="147.45"/><use href="#m2" x="463.42" y="147.45"/><use href="#m2" x="464.61" y="147.45"/><use href="#m2" x="465.8" y="147.45"/><use href="#m2" x="466.99" y="147.45"/><use href="#m2" x="468.18" y="147.45"/><use href="#m2" x="469.37" y="147.45"/><use href="#m2" x="470.56" y="147.45"/><use href="#m2" x="471.76" y="147.45"/><use href="#m2" x="472.95" y="147.45"/><use href="#m2" x="474.14" y="147.45"/><use href="#m2" x="475.33" y="147.45"/><use href="#m2" x="476.52" y="147.45"/><use href="#m2" x="477.71" y="147.45"/><use href="#m2" x="478.9" y="147.45"/><use href="#m2" x="480.09" y="147.45"/><use href="#m2" x="481.28" y="147.45"/><use href="#m2" x="482.48" y="147.45"/><use href="#m2" x="483.67" y="147.45"/><use href="#m2" x="484.86" y="147.45"/><use href="#m2" x="486.05" y="147.45"/><use href="#m2" x="487.24" y="147.45"/><use href="#m2" x="488.43" y="147.45"/><use href="#m2" x="489.62" y="147.45"/><use href="#m2" x="490.81" y="147.45"/><use href="#m2" x="492" y="147.45"/><use href="#m2" x="493.19" y="147.45"/><use href="#m2" x="494.39" y="147.45"/><use href="#m2" x="495.58" y="147.45"/><use href="#m2" x="496.77" y="147.45"/><use href="#m2" x="497.96" y="147.45"/><use href="#m2" x="499.15" y="147.45"/><use href="#m2" x="500.34" y="147.45"/><use href="#m2" x="501.53" y="147.45"/><use href="#m2" x="502.72" y="147.45"/><use href="#m2" x="503.91" y="147.45"/><use href="#m2" x="505.11" y="147.45"/><use href="#m2" x="506.3" y="147.45"/><use href="#m2" x="507.49" y="147.45"/><use href="#m2" x="508.68" y="147.45"/><use href="#m2" x="509.87" y="147.45"/><use href="#m2" x="511.06" y="147.45"/><use href="#m2" x="512.25" y="147.45"/><use href="#m2" x="513.44" y="147.45"/><use href="#m2" x="514.63" y="147.45"/><use href="#m2" x="515.83" y="147.45"/><use href="#m2" x="517.02" y="147.45"/><use href="#m2" x="518.21" y="147.45"/><use href="#m2" x="519.4" y="147.45"/><use href="#m2" x="520.59" y="147.45"/><use href="#m2" x="521.78" y="147.45"/><use href="#m2" x="522.97" y="147.45"/><use href="#m2" x="524.16" y="147.45"/><use href="#m2" x="525.35" y="147.45"/><use href="#m2" x="526.55" y="147.45"/><use href="#m2" x="527.74" y="147.45"/><use href="#m2" x="528.93" y="147.45"/><use href="#m2" x="530.12" y="147.45"/><use href="#m2" x="531.31" y="147.45"/><use href="#m2" x="532.5" y="147.45"/><use href="#m2" x="533.69" y="147.45"/><use href="#m2" x="534.88" y="147.45"/><use href="#m2" x="536.07" y="147.45"/><use href="#m2" x="537.27" y="147.45"/><use href="#m2" x="538.46" y="147.45"/><use href="#m2" x="539.65" y="147.45"/><use href="#m2" x="540.84" y="147.45"/><use href="#m2" x="542.03" y="147.45"/><use href="#m2" x="543.22" y="147.45"/><use href="#m2" x="544.41" y="147.45"/><use href="#m2" x="545.6" y="147.45"/><use href="#m2" x="546.79" y="147.45"/><use href="#m2" x="547.99" y="147.45"/><use href="#m2" x="549.18" y="147.45"/><use href="#m2" x="550.37" y="147.45"/><use href="#m2" x="551.56" y="147.45"/><use href="#m2" x="552.75" y="147.45"/><use href="#m2" x="553.94" y="147.45"/><use href="#m2" x="555.13" y="147.45"/><use href="#m2" x="556.32" y="147.45"/><use href="#m2" x="557.51" y="147.45"/><use href="#m2" x="558.71" y="147.45"/><use href="#m2" x="559.9" y="147.45"/><use href="#m2" x="561.09" y="147.45"/><use href="#m2" x="562.28" y="147.45"/><use href="#m2" x="563.47" y="147.45"/><use href="#m2" x="564.66" y="147.45"/><use href="#m2" x="565.85" y="147.45"/><use href="#m2" x="567.04" y="147.45"/><use href="#m2" x="568.23" y="147.45"/><use href="#m2" x="569.43" y="147.45"/><use href="#m2" x="570.62" y="147.45"/><use href="#m2" x="571.81" y="147.45"/><use href="#m2" x="573" y="147.45"/><use href="#m2" x="574.19" y="147.45"/><use href="#m2" x="575.38" y="147.45"/><use href="#m2" x="576.57" y="147.45"/><use href="#m2" x="577.76" y="147.45"/><use href="#m2" x="578.95" y="147.45"/><use href="#m2" x="580.15" y="147.45"/><use href="#m2" x="581.34" y="147.45"/><use href="#m2" x="582.53" y="147.45"/><use href="#m2" x="583.72" y="147.45"/><use href="#m2" x="584.91" y="147.45"/><use href="#m2" x="586.1" y="147.45"/><use href="#m2" x="587.29" y="147.45"/><use href="#m2" x="588.48" y="147.45"/><use href="#m2" x="589.67" y="147.45"/><use href="#m2" x="590.87" y="147.45"/><use href="#m2" x="592.06" y="147.45"/><use href="#m2" x="593.25" y="147.45"/><use href="#m2" x="594.44" y="147.45"/><use href="#m2" x="595.63" y="147.45"/><use href="#m2" x="596.82" y="147.45"/><use href="#m2" x="598.01" y="147.45"/><use href="#m2" x="599.2" y="147.45"/><use href="#m2" x="600.39" y="147.45"/><use href="#m2" x="601.59" y="147.45"/><use href="#m2" x="602.78" y="147.45"/><use href="#m2" x="603.97" y="147.45"/><use href="#m2" x="605.16" y="147.45"/><use href="#m2" x="606.35" y="147.45"/><use href="#m2" x="607.54" y="147.45"/><use href="#m2" x="608.73" y="147.45"/><use href="#m2" x="609.92" y="147.45"/><use href="#m2" x="611.11" y="147.45"/><use href="#m2" x="612.3" y="147.45"/><use href="#m2" x="613.5" y="147.45"/><use href="#m2" x="614.69" y="147.45"/><use href="#m2" x="615.88" y="147.45"/><use href="#m2" x="617.07" y="147.45"/><use href="#m2" x="618.26" y="147.45"/><use href="#m2" x="619.45" y="147.45"/><use href="#m2" x="620.64" y="147.45"/><use href="#m2" x="621.83" y="147.45"/><use href="#m2" x="623.02" y="147.45"/><use href="#m2" x="624.22" y="147.45"/><use href="#m2" x="625.41" y="147.45"/><use href="#m2" x="626.6" y="147.45"/><use href="#m2" x="627.79" y="147.45"/><use href="#m2" x="628.98" y="147.45"/><use href="#m2" x="630.17" y="147.45"/><use href="#m2" x="631.36" y="147.45"/><use href="#m2" x="632.55" y="147.45"/><use href="#m2" x="633.74" y="147.45"/><use href="#m2" x="634.94" y="147.45"/><use href="#m2" x="636.13" y="147.45"/><use href="#m2" x="637.32" y="147.45"/><use href="#m2" x="638.51" y="147.45"/><use href="#m2" x="639.7" y="147.45"/><use href="#m2" x="640.89" y="147.45"/><use href="#m2" x="642.08" y="147.45"/><use href="#m2" x="643.27" y="147.45"/><use href="#m2" x="644.46" y="147.45"/><use href="#m2" x="645.66" y="147.45"/><use href="#m2" x="646.85" y="147.45"/><use href="#m2" x="648.04" y="147.45"/><use href="#m2" x="649.23" y="147.45"/><use href="#m2" x="650.42" y="147.45"/><use href="#m2" x="651.61" y="147.45"/><use href="#m2" x="652.8" y="147.45"/><use href="#m2" x="653.99" y="147.45"/><use href="#m2" x="655.18" y="147.45"/><use href="#m2" x="656.38" y="147.45"/><use href="#m2" x="657.57" y="147.45"/><use href="#m2" x="658.76" y="147.45"/><use href="#m2" x="659.95" y="147.45"/>
</g>
<g>
<polyline clip-path="url(#ax)" points="107.28,-198.19 108.47,-175.45 109.66,-152.72 110.85,-129.99 112.04,-107.26 113.23,-84.53 114.43,-61.79 115.62,-39.06 116.81,-16.33 118,6.4 119.19,29.13 120.38,51.86 121.57,74.6 122.76,97.33 123.95,120.06 125.15,120.06 126.34,120.06 127.53,120.06 128.72,120.06 129.91,120.06 131.1,120.06 132.29,120.06 133.48,120.06 134.67,120.06 135.86,120.06 137.06,120.06 138.25,120.06 139.44,120.06 140.63,120.06 141.82,120.06 143.01,120.06 144.2,120.06 145.39,120.06 146.58,120.06 147.78,120.06 148.97,120.06 150.16,120.06 151.35,120.06 152.54,120.06 153.73,120.06 154.92,120.06 156.11,120.06 157.3,120.06 158.5,120.06 159.69,120.06 160.88,120.06 162.07,120.06 163.26,120.06 164.45,120.06 165.64,120.06 166.83,120.06 168.02,120.06 169.22,120.06 170.41,120.06 171.6,120.06 172.79,120.06 173.98,120.06 175.17,120.06 176.36,120.06 177.55,120.06 178.74,120.06 179.94,120.06 181.13,120.06 182.32,120.06 183.51,120.06 184.7,120.06 185.89,120.06 187.08,120.06 188.27,120.06 189.46,120.06 190.66,120.06 191.85,120.06 193.04,120.06 194.23,120.06 195.42,120.06 196.61,120.06 197.8,120.06 198.99,120.06 200.18,120.06 201.38,120.06 202.57,120.06 203.76,120.06 204.95,120.06 206.14,120.06 207.33,120.06 208.52,120.06 209.71,120.06 210.9,120.06 212.1,120.06 213.29,120.06 214.48,120.06 215.67,120.06 216.86,120.06 218.05,120.06 219.24,120.06 220.43,120.06 221.62,120.06 222.82,120.06 224.01,120.06 225.2,120.06 226.39,120.06 227.58,120.06 228.77,120.06 229.96,120.06 231.15,120.06 232.34,120.06 233.54,120.06 234.73,120.06 235.92,120.06 237.11,120.06 238.3,120.06 239.49,120.06 240.68,120.06 241.87,120.06 243.06,120.06 244.26,120.06 245.45,120.06 246.64,120.06 247.83,120.06 249.02,120.06 250.21,120.06 251.4,120.06 252.59,120.06 253.78,120.06 254.97,120.06 256.17,120.06 257.36,120.06 258.55,120.06 259.74,120.06 260.93,120.06 262.12,120.06 263.31,120.06 264.5,120.06 265.69,120.06 266.89,120.06 268.08,120.06 269.27,120.06 270.46,120.06 271.65,120.06 272.84,120.06 274.03,120.06 275.22,120.06 276.41,120.06 277.61,120.06 278.8,120.06 279.99,120.06 281.18,120.06 282.37,120.06 283.56,120.06 284.75,120.06 285.94,120.06 287.13,120.06 288.33,120.06 289.52,120.06 290.71,120.06 291.9,120.06 293.09,120.06 294.28,120.06 295.47,120.06 296.66,120.06 297.85,120.06 299.05,120.06 300.24,120.06 301.43,120.06 302.62,120.06 303.81,120.06 305,120.06 306.19,120.06 307.38,120.06 308.57,120.06 309.77,120.06 310.96,120.06 312.15,120.06 313.34,120.06 314.53,120.06 315.72,120.06 316.91,120.06 318.1,120.06 319.29,120.06 320.49,120.06 321.68,120.06 322.87,120.06 324.06,120.06 325.25,120.06 326.44,120.06 327.63,120.06 328.82,120.06 330.01,120.06 331.21,120.06 332.4,120.06 333.59,120.06 334.78,120.06 335.97,120.06 337.16,120.06 338.35,120.06 339.54,120.06 340.73,120.06 341.93,120.06 343.12,120.06 344.31,120.06 345.5,120.06 346.69,120.06 347.88,120.06 349.07,120.06 350.26,120.06 351.45,120.06 352.65,120.06 353.84,120.06 355.03,120.06 356.22,120.06 357.41,120.06 358.6,120.06 359.79,120.06 360.98,120.06 362.17,120.06 363.37,120.06 364.56,120.06 365.75,120.06 366.94,120.06 368.13,120.06 369.32,120.06 370.51,120.06 371.7,120.06 372.89,120.06 374.08,120.06 375.28,120.06 376.47,120.06 377.66,120.06 378.85,120.06 380.04,120.06 381.23,120.06 382.42,120.06 383.61,120.06 384.8,120.06 386,120.06 387.19,120.06 388.38,120.06 389.57,120.06 390.76,120.06 391.95,120.06 393.14,120.06 394.33,120.06 395.52,120.06 396.72,120.06 397.91,120.06 399.1,120.06 400.29,120.06 401.48,120.06 402.67,120.06 403.86,120.06 405.05,120.06 406.24,120.06 407.44,120.06 408.63,120.06 409.82,120.06 411.01,120.06 412.2,120.06 413.39,120.06 414.58,120.06 415.77,120.06 416.96,120.06 418.16,120.06 419.35,120.06 420.54,120.06 421.73,120.06 422.92,120.06 424.11,120.06 425.3,120.06 426.49,120.06 427.68,120.06 428.88,120.06 430.07,120.06 431.26,120.06 432.45,120.06 433.64,120.06 434.83,120.06 436.02,120.06 437.21,120.06 438.4,120.06 439.6,120.06 440.79,120.06 441.98,120.06 443.17,120.06 444.36,120.06 445.55,120.06 446.74,120.06 447.93,120.06 449.12,120.06 450.32,120.06 451.51,120.06 452.7,120.06 453.89,120.06 455.08,120.06 456.27,120.06 457.46,120.06 458.65,120.06 459.84,120.06 461.04,120.06 462.23,120.06 463.42,120.06 464.61,120.06 465.8,120.06 466.99,120.06 468.18,120.06 469.37,120.06 470.56,120.06 471.76,120.06 472.95,120.06 474.14,120.06 475.33,120.06 476.52,120.06 477.71,120.06 478.9,120.06 480.09,120.06 481.28,120.06 482.48,120.06 483.67,120.06 484.86,120.06 486.05,120.06 487.24,120.06 488.43,120.06 489.62,120.06 490.81,120.06 492,120.06 493.19,120.06 494.39,120.06 495.58,120.06 496.77,120.06 497.96,120.06 499.15,120.06 500.34,120.06 501.53,120.06 502.72,120.06 503.91,120.06 505.11,120.06 506.3,120.06 507.49,120.06 508.68,120.06 509.87,120.06 511.06,120.06 512.25,120.06 513.44,120.06 514.63,120.06 515.83,120.06 517.02,120.06 518.21,120.06 519.4,120.06 520.59,120.06 521.78,120.06 522.97,120.06 524.16,120.06 525.35,120.06 526.55,120.06 527.74,120.06 528.93,120.06 530.12,120.06 531.31,120.06 532.5,120.06 533.69,120.06 534.88,120.06 536.07,120.06 537.27,120.06 538.46,120.06 539.65,120.06 540.84,120.06 542.03,120.06 543.22,120.06 544.41,120.06 545.6,120.06 546.79,120.06 547.99,120.06 549.18,120.06 550.37,120.06 551.56,120.06 552.75,120.06 553.94,120.06 555.13,120.06 556.32,120.06 557.51,120.06 558.71,120.06 559.9,120.06 561.09,120.06 562.28,120.06 563.47,120.06 564.66,120.06 565.85,120.06 567.04,120.06 568.23,120.06 569.43,120.06 570.62,120.06 571.81,120.06 573,120.06 574.19,120.06 575.38,120.06 576.57,120.06 577.76,120.06 578.95,120.06 580.15,120.06 581.34,120.06 582.53,120.06 583.72,120.06 584.91,120.06 586.1,120.06 587.29,120.06 588.48,120.06 589.67,120.06 590.87,120.06 592.06,120.06 593.25,120.06 594.44,120.06 595.63,120.06 596.82,120.06 598.01,120.06 599.2,120.06 600.39,120.06 601.59,120.06 602.78,120.06 603.97,120.06 605.16,120.06 606.35,120.06 607.54,120.06 608.73,120.06 609.92,120.06 611.11,120.06 612.3,120.06 613.5,120.06 614.69,120.06 615.88,120.06 617.07,120.06 618.26,120.06 619.45,120.06 620.64,120.06 621.83,120.06 623.02,120.06 624.22,120.06 625.41,120.06 626.6,120.06 627.79,120.06 628.98,120.06 630.17,120.06 631.36,120.06 632.55,120.06 633.74,120.06 634.94,120.06 636.13,120.06 637.32,120.06 638.51,120.06 639.7,120.06 640.89,120.06 642.08,120.06 643.27,120.06 644.46,120.06 645.66,120.06 646.85,120.06 648.04,120.06 649.23,120.06 650.42,120.06 651.61,120.06 652.8,120.06 653.99,120.06 655.18,120.06 656.38,120.06 657.57,120.06 658.76,120.06 659.95,120.06" fill="none" stroke="#D95319" stroke-width="2.5" stroke-linejoin="round"/>
<use href="#m3" x="119.19" y="29.13"/><use href="#m3" x="120.38" y="51.86"/><use href="#m3" x="121.57" y="74.6"/><use href="#m3" x="122.76" y="97.33"/><use href="#m3" x="123.95" y="120.06"/><use href="#m3" x="125.15" y="120.06"/><use href="#m3" x="126.34" y="120.06"/><use href="#m3" x="127.53" y="120.06"/><use href="#m3" x="128.72" y="120.06"/><use href="#m3" x="129.91" y="120.06"/><use href="#m3" x="131.1" y="120.06"/><use href="#m3" x="132.29" y="120.06"/><use href="#m3" x="133.48" y="120.06"/><use href="#m3" x="134.67" y="120.06"/><use href="#m3" x="135.86" y="120.06"/><use href="#m3" x="137.06" y="120.06"/><use href="#m3" x="138.25" y="120.06"/><use href="#m3" x="139.44" y="120.06"/><use href="#m3" x="140.63" y="120.06"/><use href="#m3" x="141.82" y="120.06"/><use href="#m3" x="143.01" y="120.06"/><use href="#m3" x="144.2" y="120.06"/><use href="#m3" x="145.39" y="120.06"/><use href="#m3" x="146.58" y="120.06"/><use href="#m3" x="147.78" y="120.06"/><use href="#m3" x="148.97" y="120.06"/><use href="#m3" x="150.16" y="120.06"/><use href="#m3" x="151.35" y="120.06"/><use href="#m3" x="152.54" y="120.06"/><use href="#m3" x="153.73" y="120.06"/><use href="#m3" x="154.92" y="120.06"/><use href="#m3" x="156.11" y="120.06"/><use href="#m3" x="157.3" y="120.06"/><use href="#m3" x="158.5" y="120.06"/><use href="#m3" x="159.69" y="120.06"/><use href="#m3" x="160.88" y="120.06"/><use href="#m3" x="162.07" y="120.06"/><use href="#m3" x="163.26" y="120.06"/><use href="#m3" x="164.45" y="120.06"/><use href="#m3" x="165.64" y="120.06"/><use href="#m3" x="166.83" y="120.06"/><use href="#m3" x="168.02" y="120.06"/><use href="#m3" x="169.22" y="120.06"/><use href="#m3" x="170.41" y="120.06"/><use href="#m3" x="171.6" y="120.06"/><use href="#m3" x="172.79" y="120.06"/><use href="#m3" x="173.98" y="120.06"/><use href="#m3" x="175.17" y="120.06"/><use href="#m3" x="176.36" y="120.06"/><use href="#m3" x="177.55" y="120.06"/><use href="#m3" x="178.74" y="120.06"/><use href="#m3" x="179.94" y="120.06"/><use href="#m3" x="181.13" y="120.06"/><use href="#m3" x="182.32" y="120.06"/><use href="#m3" x="183.51" y="120.06"/><use href="#m3" x="184.7" y="120.06"/><use href="#m3" x="185.89" y="120.06"/><use href="#m3" x="187.08" y="120.06"/><use href="#m3" x="188.27" y="120.06"/><use href="#m3" x="189.46" y="120.06"/><use href="#m3" x="190.66" y="120.06"/><use href="#m3" x="191.85" y="120.06"/><use href="#m3" x="193.04" y="120.06"/><use href="#m3" x="194.23" y="120.06"/><use href="#m3" x="195.42" y="120.06"/><use href="#m3" x="196.61" y="120.06"/><use href="#m3" x="197.8" y="120.06"/><use href="#m3" x="198.99" y="120.06"/><use href="#m3" x="200.18" y="120.06"/><use href="#m3" x="201.38" y="120.06"/><use href="#m3" x="202.57" y="120.06"/><use href="#m3" x="203.76" y="120.06"/><use href="#m3" x="204.95" y="120.06"/><use href="#m3" x="206.14" y="120.06"/><use href="#m3" x="207.33" y="120.06"/><use href="#m3" x="208.52" y="120.06"/><use href="#m3" x="209.71" y="120.06"/><use href="#m3" x="210.9" y="120.06"/><use href="#m3" x="212.1" y="120.06"/><use href="#m3" x="213.29" y="120.06"/><use href="#m3" x="214.48" y="120.06"/><use href="#m3" x="215.67" y="120.06"/><use href="#m3" x="216.86" y="120.06"/><use href="#m3" x="218.05" y="120.06"/><use href="#m3" x="219.24" y="120.06"/><use href="#m3" x="220.43" y="120.06"/><use href="#m3" x="221.62" y="120.06"/><use href="#m3" x="222.82" y="120.06"/><use href="#m3" x="224.01" y="120.06"/><use href="#m3" x="225.2" y="120.06"/><use href="#m3" x="226.39" y="120.06"/><use href="#m3" x="227.58" y="120.06"/><use href="#m3" x="228.77" y="120.06"/><use href="#m3" x="229.96" y="120.06"/><use href="#m3" x="231.15" y="120.06"/><use href="#m3" x="232.34" y="120.06"/><use href="#m3" x="233.54" y="120.06"/><use href="#m3" x="234.73" y="120.06"/><use href="#m3" x="235.92" y="120.06"/><use href="#m3" x="237.11" y="120.06"/><use href="#m3" x="238.3" y="120.06"/><use href="#m3" x="239.49" y="120.06"/><use href="#m3" x="240.68" y="120.06"/><use href="#m3" x="241.87" y="120.06"/><use href="#m3" x="243.06" y="120.06"/><use href="#m3" x="244.26" y="120.06"/><use href="#m3" x="245.45" y="120.06"/><use href="#m3" x="246.64" y="120.06"/><use href="#m3" x="247.83" y="120.06"/><use href="#m3" x="249.02" y="120.06"/><use href="#m3" x="250.21" y="120.06"/><use href="#m3" x="251.4" y="120.06"/><use href="#m3" x="252.59" y="120.06"/><use href="#m3" x="253.78" y="120.06"/><use href="#m3" x="254.97" y="120.06"/><use href="#m3" x="256.17" y="120.06"/><use href="#m3" x="257.36" y="120.06"/><use href="#m3" x="258.55" y="120.06"/><use href="#m3" x="259.74" y="120.06"/><use href="#m3" x="260.93" y="120.06"/><use href="#m3" x="262.12" y="120.06"/><use href="#m3" x="263.31" y="120.06"/><use href="#m3" x="264.5" y="120.06"/><use href="#m3" x="265.69" y="120.06"/><use href="#m3" x="266.89" y="120.06"/><use href="#m3" x="268.08" y="120.06"/><use href="#m3" x="269.27" y="120.06"/><use href="#m3" x="270.46" y="120.06"/><use href="#m3" x="271.65" y="120.06"/><use href="#m3" x="272.84" y="120.06"/><use href="#m3" x="274.03" y="120.06"/><use href="#m3" x="275.22" y="120.06"/><use href="#m3" x="276.41" y="120.06"/><use href="#m3" x="277.61" y="120.06"/><use href="#m3" x="278.8" y="120.06"/><use href="#m3" x="279.99" y="120.06"/><use href="#m3" x="281.18" y="120.06"/><use href="#m3" x="282.37" y="120.06"/><use href="#m3" x="283.56" y="120.06"/><use href="#m3" x="284.75" y="120.06"/><use href="#m3" x="285.94" y="120.06"/><use href="#m3" x="287.13" y="120.06"/><use href="#m3" x="288.33" y="120.06"/><use href="#m3" x="289.52" y="120.06"/><use href="#m3" x="290.71" y="120.06"/><use href="#m3" x="291.9" y="120.06"/><use href="#m3" x="293.09" y="120.06"/><use href="#m3" x="294.28" y="120.06"/><use href="#m3" x="295.47" y="120.06"/><use href="#m3" x="296.66" y="120.06"/><use href="#m3" x="297.85" y="120.06"/><use href="#m3" x="299.05" y="120.06"/><use href="#m3" x="300.24" y="120.06"/><use href="#m3" x="301.43" y="120.06"/><use href="#m3" x="302.62" y="120.06"/><use href="#m3" x="303.81" y="120.06"/><use href="#m3" x="305" y="120.06"/><use href="#m3" x="306.19" y="120.06"/><use href="#m3" x="307.38" y="120.06"/><use href="#m3" x="308.57" y="120.06"/><use href="#m3" x="309.77" y="120.06"/><use href="#m3" x="310.96" y="120.06"/><use href="#m3" x="312.15" y="120.06"/><use href="#m3" x="313.34" y="120.06"/><use href="#m3" x="314.53" y="120.06"/><use href="#m3" x="315.72" y="120.06"/><use href="#m3" x="316.91" y="120.06"/><use href="#m3" x="318.1" y="120.06"/><use href="#m3" x="319.29" y="120.06"/><use href="#m3" x="320.49" y="120.06"/><use href="#m3" x="321.68" y="120.06"/><use href="#m3" x="322.87" y="120.06"/><use href="#m3" x="324.06" y="120.06"/><use href="#m3" x="325.25" y="120.06"/><use href="#m3" x="326.44" y="120.06"/><use href="#m3" x="327.63" y="120.06"/><use href="#m3" x="328.82" y="120.06"/><use href="#m3" x="330.01" y="120.06"/><use href="#m3" x="331.21" y="120.06"/><use href="#m3" x="332.4" y="120.06"/><use href="#m3" x="333.59" y="120.06"/><use href="#m3" x="334.78" y="120.06"/><use href="#m3" x="335.97" y="120.06"/><use href="#m3" x="337.16" y="120.06"/><use href="#m3" x="338.35" y="120.06"/><use href="#m3" x="339.54" y="120.06"/><use href="#m3" x="340.73" y="120.06"/><use href="#m3" x="341.93" y="120.06"/><use href="#m3" x="343.12" y="120.06"/><use href="#m3" x="344.31" y="120.06"/><use href="#m3" x="345.5" y="120.06"/><use href="#m3" x="346.69" y="120.06"/><use href="#m3" x="347.88" y="120.06"/><use href="#m3" x="349.07" y="120.06"/><use href="#m3" x="350.26" y="120.06"/><use href="#m3" x="351.45" y="120.06"/><use href="#m3" x="352.65" y="120.06"/><use href="#m3" x="353.84" y="120.06"/><use href="#m3" x="355.03" y="120.06"/><use href="#m3" x="356.22" y="120.06"/><use href="#m3" x="357.41" y="120.06"/><use href="#m3" x="358.6" y="120.06"/><use href="#m3" x="359.79" y="120.06"/><use href="#m3" x="360.98" y="120.06"/><use href="#m3" x="362.17" y="120.06"/><use href="#m3" x="363.37" y="120.06"/><use href="#m3" x="364.56" y="120.06"/><use href="#m3" x="365.75" y="120.06"/><use href="#m3" x="366.94" y="120.06"/><use href="#m3" x="368.13" y="120.06"/><use href="#m3" x="369.32" y="120.06"/><use href="#m3" x="370.51" y="120.06"/><use href="#m3" x="371.7" y="120.06"/><use href="#m3" x="372.89" y="120.06"/><use href="#m3" x="374.08" y="120.06"/><use href="#m3" x="375.28" y="120.06"/><use href="#m3" x="376.47" y="120.06"/><use href="#m3" x="377.66" y="120.06"/><use href="#m3" x="378.85" y="120.06"/><use href="#m3" x="380.04" y="120.06"/><use href="#m3" x="381.23" y="120.06"/><use href="#m3" x="382.42" y="120.06"/><use href="#m3" x="383.61" y="120.06"/><use href="#m3" x="384.8" y="120.06"/><use href="#m3" x="386" y="120.06"/><use href="#m3" x="387.19" y="120.06"/><use href="#m3" x="388.38" y="120.06"/><use href="#m3" x="389.57" y="120.06"/><use href="#m3" x="390.76" y="120.06"/><use href="#m3" x="391.95" y="120.06"/><use href="#m3" x="393.14" y="120.06"/><use href="#m3" x="394.33" y="120.06"/><use href="#m3" x="395.52" y="120.06"/><use href="#m3" x="396.72" y="120.06"/><use href="#m3" x="397.91" y="120.06"/><use href="#m3" x="399.1" y="120.06"/><use href="#m3" x="400.29" y="120.06"/><use href="#m3" x="401.48" y="120.06"/><use href="#m3" x="402.67" y="120.06"/><use href="#m3" x="403.86" y="120.06"/><use href="#m3" x="405.05" y="120.06"/><use href="#m3" x="406.24" y="120.06"/><use href="#m3" x="407.44" y="120.06"/><use href="#m3" x="408.63" y="120.06"/><use href="#m3" x="409.82" y="120.06"/><use href="#m3" x="411.01" y="120.06"/><use href="#m3" x="412.2" y="120.06"/><use href="#m3" x="413.39" y="120.06"/><use href="#m3" x="414.58" y="120.06"/><use href="#m3" x="415.77" y="120.06"/><use href="#m3" x="416.96" y="120.06"/><use href="#m3" x="418.16" y="120.06"/><use href="#m3" x="419.35" y="120.06"/><use href="#m3" x="420.54" y="120.06"/><use href="#m3" x="421.73" y="120.06"/><use href="#m3" x="422.92" y="120.06"/><use href="#m3" x="424.11" y="120.06"/><use href="#m3" x="425.3" y="120.06"/><use href="#m3" x="426.49" y="120.06"/><use href="#m3" x="427.68" y="120.06"/><use href="#m3" x="428.88" y="120.06"/><use href="#m3" x="430.07" y="120.06"/><use href="#m3" x="431.26" y="120.06"/><use href="#m3" x="432.45" y="120.06"/><use href="#m3" x="433.64" y="120.06"/><use href="#m3" x="434.83" y="120.06"/><use href="#m3" x="436.02" y="120.06"/><use href="#m3" x="437.21" y="120.06"/><use href="#m3" x="438.4" y="120.06"/><use href="#m3" x="439.6" y="120.06"/><use href="#m3" x="440.79" y="120.06"/><use href="#m3" x="441.98" y="120.06"/><use href="#m3" x="443.17" y="120.06"/><use href="#m3" x="444.36" y="120.06"/><use href="#m3" x="445.55" y="120.06"/><use href="#m3" x="446.74" y="120.06"/><use href="#m3" x="447.93" y="120.06"/><use href="#m3" x="449.12" y="120.06"/><use href="#m3" x="450.32" y="120.06"/><use href="#m3" x="451.51" y="120.06"/><use href="#m3" x="452.7" y="120.06"/><use href="#m3" x="453.89" y="120.06"/><use href="#m3" x="455.08" y="120.06"/><use href="#m3" x="456.27" y="120.06"/><use href="#m3" x="457.46" y="120.06"/><use href="#m3" x="458.65" y="120.06"/><use href="#m3" x="459.84" y="120.06"/><use href="#m3" x="461.04" y="120.06"/><use href="#m3" x="462.23" y="120.06"/><use href="#m3" x="463.42" y="120.06"/><use href="#m3" x="464.61" y="120.06"/><use href="#m3" x="465.8" y="120.06"/><use href="#m3" x="466.99" y="120.06"/><use href="#m3" x="468.18" y="120.06"/><use href="#m3" x="469.37" y="120.06"/><use href="#m3" x="470.56" y="120.06"/><use href="#m3" x="471.76" y="120.06"/><use href="#m3" x="472.95" y="120.06"/><use href="#m3" x="474.14" y="120.06"/><use href="#m3" x="475.33" y="120.06"/><use href="#m3" x="476.52" y="120.06"/><use href="#m3" x="477.71" y="120.06"/><use href="#m3" x="478.9" y="120.06"/><use href="#m3" x="480.09" y="120.06"/><use href="#m3" x="481.28" y="120.06"/><use href="#m3" x="482.48" y="120.06"/><use href="#m3" x="483.67" y="120.06"/><use href="#m3" x="484.86" y="120.06"/><use href="#m3" x="486.05" y="120.06"/><use href="#m3" x="487.24" y="120.06"/><use href="#m3" x="488.43" y="120.06"/><use href="#m3" x="489.62" y="120.06"/><use href="#m3" x="490.81" y="120.06"/><use href="#m3" x="492" y="120.06"/><use href="#m3" x="493.19" y="120.06"/><use href="#m3" x="494.39" y="120.06"/><use href="#m3" x="495.58" y="120.06"/><use href="#m3" x="496.77" y="120.06"/><use href="#m3" x="497.96" y="120.06"/><use href="#m3" x="499.15" y="120.06"/><use href="#m3" x="500.34" y="120.06"/><use href="#m3" x="501.53" y="120.06"/><use href="#m3" x="502.72" y="120.06"/><use href="#m3" x="503.91" y="120.06"/><use href="#m3" x="505.11" y="120.06"/><use href="#m3" x="506.3" y="120.06"/><use href="#m3" x="507.49" y="120.06"/><use href="#m3" x="508.68" y="120.06"/><use href="#m3" x="509.87" y="120.06"/><use href="#m3" x="511.06" y="120.06"/><use href="#m3" x="512.25" y="120.06"/><use href="#m3" x="513.44" y="120.06"/><use href="#m3" x="514.63" y="120.06"/><use href="#m3" x="515.83" y="120.06"/><use href="#m3" x="517.02" y="120.06"/><use href="#m3" x="518.21" y="120.06"/><use href="#m3" x="519.4" y="120.06"/><use href="#m3" x="520.59" y="120.06"/><use href="#m3" x="521.78" y="120.06"/><use href="#m3" x="522.97" y="120.06"/><use href="#m3" x="524.16" y="120.06"/><use href="#m3" x="525.35" y="120.06"/><use href="#m3" x="526.55" y="120.06"/><use href="#m3" x="527.74" y="120.06"/><use href="#m3" x="528.93" y="120.06"/><use href="#m3" x="530.12" y="120.06"/><use href="#m3" x="531.31" y="120.06"/><use href="#m3" x="532.5" y="120.06"/><use href="#m3" x="533.69" y="120.06"/><use href="#m3" x="534.88" y="120.06"/><use href="#m3" x="536.07" y="120.06"/><use href="#m3" x="537.27" y="120.06"/><use href="#m3" x="538.46" y="120.06"/><use href="#m3" x="539.65" y="120.06"/><use href="#m3" x="540.84" y="120.06"/><use href="#m3" x="542.03" y="120.06"/><use href="#m3" x="543.22" y="120.06"/><use href="#m3" x="544.41" y="120.06"/><use href="#m3" x="545.6" y="120.06"/><use href="#m3" x="546.79" y="120.06"/><use href="#m3" x="547.99" y="120.06"/><use href="#m3" x="549.18" y="120.06"/><use href="#m3" x="550.37" y="120.06"/><use href="#m3" x="551.56" y="120.06"/><use href="#m3" x="552.75" y="120.06"/><use href="#m3" x="553.94" y="120.06"/><use href="#m3" x="555.13" y="120.06"/><use href="#m3" x="556.32" y="120.06"/><use href="#m3" x="557.51" y="120.06"/><use href="#m3" x="558.71" y="120.06"/><use href="#m3" x="559.9" y="120.06"/><use href="#m3" x="561.09" y="120.06"/><use href="#m3" x="562.28" y="120.06"/><use href="#m3" x="563.47" y="120.06"/><use href="#m3" x="564.66" y="120.06"/><use href="#m3" x="565.85" y="120.06"/><use href="#m3" x="567.04" y="120.06"/><use href="#m3" x="568.23" y="120.06"/><use href="#m3" x="569.43" y="120.06"/><use href="#m3" x="570.62" y="120.06"/><use href="#m3" x="571.81" y="120.06"/><use href="#m3" x="573" y="120.06"/><use href="#m3" x="574.19" y="120.06"/><use href="#m3" x="575.38" y="120.06"/><use href="#m3" x="576.57" y="120.06"/><use href="#m3" x="577.76" y="120.06"/><use href="#m3" x="578.95" y="120.06"/><use href="#m3" x="580.15" y="120.06"/><use href="#m3" x="581.34" y="120.06"/><use href="#m3" x="582.53" y="120.06"/><use href="#m3" x="583.72" y="120.06"/><use href="#m3" x="584.91" y="120.06"/><use href="#m3" x="586.1" y="120.06"/><use href="#m3" x="587.29" y="120.06"/><use href="#m3" x="588.48" y="120.06"/><use href="#m3" x="589.67" y="120.06"/><use href="#m3" x="590.87" y="120.06"/><use href="#m3" x="592.06" y="120.06"/><use href="#m3" x="593.25" y="120.06"/><use href="#m3" x="594.44" y="120.06"/><use href="#m3" x="595.63" y="120.06"/><use href="#m3" x="596.82" y="120.06"/><use href="#m3" x="598.01" y="120.06"/><use href="#m3" x="599.2" y="120.06"/><use href="#m3" x="600.39" y="120.06"/><use href="#m3" x="601.59" y="120.06"/><use href="#m3" x="602.78" y="120.06"/><use href="#m3" x="603.97" y="120.06"/><use href="#m3" x="605.16" y="120.06"/><use href="#m3" x="606.35" y="120.06"/><use href="#m3" x="607.54" y="120.06"/><use href="#m3" x="608.73" y="120.06"/><use href="#m3" x="609.92" y="120.06"/><use href="#m3" x="611.11" y="120.06"/><use href="#m3" x="612.3" y="120.06"/><use href="#m3" x="613.5" y="120.06"/><use href="#m3" x="614.69" y="120.06"/><use href="#m3" x="615.88" y="120.06"/><use href="#m3" x="617.07" y="120.06"/><use href="#m3" x="618.26" y="120.06"/><use href="#m3" x="619.45" y="120.06"/><use href="#m3" x="620.64" y="120.06"/><use href="#m3" x="621.83" y="120.06"/><use href="#m3" x="623.02" y="120.06"/><use href="#m3" x="624.22" y="120.06"/><use href="#m3" x="625.41" y="120.06"/><use href="#m3" x="626.6" y="120.06"/><use href="#m3" x="627.79" y="120.06"/><use href="#m3" x="628.98" y="120.06"/><use href="#m3" x="630.17" y="120.06"/><use href="#m3" x="631.36" y="120.06"/><use href="#m3" x="632.55" y="120.06"/><use href="#m3" x="633.74" y="120.06"/><use href="#m3" x="634.94" y="120.06"/><use href="#m3" x="636.13" y="120.06"/><use href="#m3" x="637.32" y="120.06"/><use href="#m3" x="638.51" y="120.06"/><use href="#m3" x="639.7" y="120.06"/><use href="#m3" x="640.89" y="120.06"/><use href="#m3" x="642.08" y="120.06"/><use href="#m3" x="643.27" y="120.06"/><use href="#m3" x="644.46" y="120.06"/><use href="#m3" x="645.66" y="120.06"/><use href="#m3" x="646.85" y="120.06"/><use href="#m3" x="648.04" y="120.06"/><use href="#m3" x="649.23" y="120.06"/><use href="#m3" x="650.42" y="120.06"/><use href="#m3" x="651.61" y="120.06"/><use href="#m3" x="652.8" y="120.06"/><use href="#m3" x="653.99" y="120.06"/><use href="#m3" x="655.18" y="120.06"/><use href="#m3" x="656.38" y="120.06"/><use href="#m3" x="657.57" y="120.06"/><use href="#m3" x="658.76" y="120.06"/><use href="#m3" x="659.95" y="120.06"/>
</g>
<g>
<polyline clip-path="url(#ax)" points="110.85,-199.3 112.04,-173.59 113.23,-147.88 114.43,-122.16 115.62,-96.45 116.81,-70.74 118,-45.03 119.19,-19.31 120.38,6.4 121.57,32.11 122.76,57.83 123.95,83.54 125.15,83.54 126.34,83.54 127.53,83.54 128.72,83.54 129.91,83.54 131.1,83.54 132.29,83.54 133.48,83.54 134.67,83.54 135.86,83.54 137.06,83.54 138.25,83.54 139.44,83.54 140.63,83.54 141.82,83.54 143.01,83.54 144.2,83.54 145.39,83.54 146.58,83.54 147.78,83.54 148.97,83.54 150.16,83.54 151.35,83.54 152.54,83.54 153.73,83.54 154.92,83.54 156.11,83.54 157.3,83.54 158.5,83.54 159.69,83.54 160.88,83.54 162.07,83.54 163.26,83.54 164.45,83.54 165.64,83.54 166.83,83.54 168.02,83.54 169.22,83.54 170.41,83.54 171.6,83.54 172.79,83.54 173.98,83.54 175.17,83.54 176.36,83.54 177.55,83.54 178.74,83.54 179.94,83.54 181.13,83.54 182.32,83.54 183.51,83.54 184.7,83.54 185.89,83.54 187.08,83.54 188.27,83.54 189.46,83.54 190.66,83.54 191.85,83.54 193.04,83.54 194.23,83.54 195.42,83.54 196.61,83.54 197.8,83.54 198.99,83.54 200.18,83.54 201.38,83.54 202.57,83.54 203.76,83.54 204.95,83.54 206.14,83.54 207.33,83.54 208.52,83.54 209.71,83.54 210.9,83.54 212.1,83.54 213.29,83.54 214.48,83.54 215.67,83.54 216.86,83.54 218.05,83.54 219.24,83.54 220.43,83.54 221.62,83.54 222.82,83.54 224.01,83.54 225.2,83.54 226.39,83.54 227.58,83.54 228.77,83.54 229.96,83.54 231.15,83.54 232.34,83.54 233.54,83.54 234.73,83.54 235.92,83.54 237.11,83.54 238.3,83.54 239.49,83.54 240.68,83.54 241.87,83.54 243.06,83.54 244.26,83.54 245.45,83.54 246.64,83.54 247.83,83.54 249.02,83.54 250.21,83.54 251.4,83.54 252.59,83.54 253.78,83.54 254.97,83.54 256.17,83.54 257.36,83.54 258.55,83.54 259.74,83.54 260.93,83.54 262.12,83.54 263.31,83.54 264.5,83.54 265.69,83.54 266.89,83.54 268.08,83.54 269.27,83.54 270.46,83.54 271.65,83.54 272.84,83.54 274.03,83.54 275.22,83.54 276.41,83.54 277.61,83.54 278.8,83.54 279.99,83.54 281.18,83.54 282.37,83.54 283.56,83.54 284.75,83.54 285.94,83.54 287.13,83.54 288.33,83.54 289.52,83.54 290.71,83.54 291.9,83.54 293.09,83.54 294.28,83.54 295.47,83.54 296.66,83.54 297.85,83.54 299.05,83.54 300.24,83.54 301.43,83.54 302.62,83.54 303.81,83.54 305,83.54 306.19,83.54 307.38,83.54 308.57,83.54 309.77,83.54 310.96,83.54 312.15,83.54 313.34,83.54 314.53,83.54 315.72,83.54 316.91,83.54 318.1,83.54 319.29,83.54 320.49,83.54 321.68,83.54 322.87,83.54 324.06,83.54 325.25,83.54 326.44,83.54 327.63,83.54 328.82,83.54 330.01,83.54 331.21,83.54 332.4,83.54 333.59,83.54 334.78,83.54 335.97,83.54 337.16,83.54 338.35,83.54 339.54,83.54 340.73,83.54 341.93,83.54 343.12,83.54 344.31,83.54 345.5,83.54 346.69,83.54 347.88,83.54 349.07,83.54 350.26,83.54 351.45,83.54 352.65,83.54 353.84,83.54 355.03,83.54 356.22,83.54 357.41,83.54 358.6,83.54 359.79,83.54 360.98,83.54 362.17,83.54 363.37,83.54 364.56,83.54 365.75,83.54 366.94,83.54 368.13,83.54 369.32,83.54 370.51,83.54 371.7,83.54 372.89,83.54 374.08,83.54 375.28,83.54 376.47,83.54 377.66,83.54 378.85,83.54 380.04,83.54 381.23,83.54 382.42,83.54 383.61,83.54 384.8,83.54 386,83.54 387.19,83.54 388.38,83.54 389.57,83.54 390.76,83.54 391.95,83.54 393.14,83.54 394.33,83.54 395.52,83.54 396.72,83.54 397.91,83.54 399.1,83.54 400.29,83.54 401.48,83.54 402.67,83.54 403.86,83.54 405.05,83.54 406.24,83.54 407.44,83.54 408.63,83.54 409.82,83.54 411.01,83.54 412.2,83.54 413.39,83.54 414.58,83.54 415.77,83.54 416.96,83.54 418.16,83.54 419.35,83.54 420.54,83.54 421.73,83.54 422.92,83.54 424.11,83.54 425.3,83.54 426.49,83.54 427.68,83.54 428.88,83.54 430.07,83.54 431.26,83.54 432.45,83.54 433.64,83.54 434.83,83.54 436.02,83.54 437.21,83.54 438.4,83.54 439.6,83.54 440.79,83.54 441.98,83.54 443.17,83.54 444.36,83.54 445.55,83.54 446.74,83.54 447.93,83.54 449.12,83.54 450.32,83.54 451.51,83.54 452.7,83.54 453.89,83.54 455.08,83.54 456.27,83.54 457.46,83.54 458.65,83.54 459.84,83.54 461.04,83.54 462.23,83.54 463.42,83.54 464.61,83.54 465.8,83.54 466.99,83.54 468.18,83.54 469.37,83.54 470.56,83.54 471.76,83.54 472.95,83.54 474.14,83.54 475.33,83.54 476.52,83.54 477.71,83.54 478.9,83.54 480.09,83.54 481.28,83.54 482.48,83.54 483.67,83.54 484.86,83.54 486.05,83.54 487.24,83.54 488.43,83.54 489.62,83.54 490.81,83.54 492,83.54 493.19,83.54 494.39,83.54 495.58,83.54 496.77,83.54 497.96,83.54 499.15,83.54 500.34,83.54 501.53,83.54 502.72,83.54 503.91,83.54 505.11,83.54 506.3,83.54 507.49,83.54 508.68,83.54 509.87,83.54 511.06,83.54 512.25,83.54 513.44,83.54 514.63,83.54 515.83,83.54 517.02,83.54 518.21,83.54 519.4,83.54 520.59,83.54 521.78,83.54 522.97,83.54 524.16,83.54 525.35,83.54 526.55,83.54 527.74,83.54 528.93,83.54 530.12,83.54 531.31,83.54 532.5,83.54 533.69,83.54 534.88,83.54 536.07,83.54 537.27,83.54 538.46,83.54 539.65,83.54 540.84,83.54 542.03,83.54 543.22,83.54 544.41,83.54 545.6,83.54 546.79,83.54 547.99,83.54 549.18,83.54 550.37,83.54 551.56,83.54 552.75,83.54 553.94,83.54 555.13,83.54 556.32,83.54 557.51,83.54 558.71,83.54 559.9,83.54 561.09,83.54 562.28,83.54 563.47,83.54 564.66,83.54 565.85,83.54 567.04,83.54 568.23,83.54 569.43,83.54 570.62,83.54 571.81,83.54 573,83.54 574.19,83.54 575.38,83.54 576.57,83.54 577.76,83.54 578.95,83.54 580.15,83.54 581.34,83.54 582.53,83.54 583.72,83.54 584.91,83.54 586.1,83.54 587.29,83.54 588.48,83.54 589.67,83.54 590.87,83.54 592.06,83.54 593.25,83.54 594.44,83.54 595.63,83.54 596.82,83.54 598.01,83.54 599.2,83.54 600.39,83.54 601.59,83.54 602.78,83.54 603.97,83.54 605.16,83.54 606.35,83.54 607.54,83.54 608.73,83.54 609.92,83.54 611.11,83.54 612.3,83.54 613.5,83.54 614.69,83.54 615.88,83.54 617.07,83.54 618.26,83.54 619.45,83.54 620.64,83.54 621.83,83.54 623.02,83.54 624.22,83.54 625.41,83.54 626.6,83.54 627.79,83.54 628.98,83.54 630.17,83.54 631.36,83.54 632.55,83.54 633.74,83.54 634.94,83.54 636.13,83.54 637.32,83.54 638.51,83.54 639.7,83.54 640.89,83.54 642.08,83.54 643.27,83.54 644.46,83.54 645.66,83.54 646.85,83.54 648.04,83.54 649.23,83.54 650.42,83.54 651.61,83.54 652.8,83.54 653.99,83.54 655.18,83.54 656.38,83.54 657.57,83.54 658.76,83.54 659.95,83.54" fill="none" stroke="#FF8000" stroke-width="2.5" stroke-linejoin="round"/>
<use href="#m4" x="121.57" y="32.11"/><use href="#m4" x="122.76" y="57.83"/><use href="#m4" x="123.95" y="83.54"/><use href="#m4" x="125.15" y="83.54"/><use href="#m4" x="126.34" y="83.54"/><use href="#m4" x="127.53" y="83.54"/><use href="#m4" x="128.72" y="83.54"/><use href="#m4" x="129.91" y="83.54"/><use href="#m4" x="131.1" y="83.54"/><use href="#m4" x="132.29" y="83.54"/><use href="#m4" x="133.48" y="83.54"/><use href="#m4" x="134.67" y="83.54"/><use href="#m4" x="135.86" y="83.54"/><use href="#m4" x="137.06" y="83.54"/><use href="#m4" x="138.25" y="83.54"/><use href="#m4" x="139.44" y="83.54"/><use href="#m4" x="140.63" y="83.54"/><use href="#m4" x="141.82" y="83.54"/><use href="#m4" x="143.01" y="83.54"/><use href="#m4" x="144.2" y="83.54"/><use href="#m4" x="145.39" y="83.54"/><use href="#m4" x="146.58" y="83.54"/><use href="#m4" x="147.78" y="83.54"/><use href="#m4" x="148.97" y="83.54"/><use href="#m4" x="150.16" y="83.54"/><use href="#m4" x="151.35" y="83.54"/><use href="#m4" x="152.54" y="83.54"/><use href="#m4" x="153.73" y="83.54"/><use href="#m4" x="154.92" y="83.54"/><use href="#m4" x="156.11" y="83.54"/><use href="#m4" x="157.3" y="83.54"/><use href="#m4" x="158.5" y="83.54"/><use href="#m4" x="159.69" y="83.54"/><use href="#m4" x="160.88" y="83.54"/><use href="#m4" x="162.07" y="83.54"/><use href="#m4" x="163.26" y="83.54"/><use href="#m4" x="164.45" y="83.54"/><use href="#m4" x="165.64" y="83.54"/><use href="#m4" x="166.83" y="83.54"/><use href="#m4" x="168.02" y="83.54"/><use href="#m4" x="169.22" y="83.54"/><use href="#m4" x="170.41" y="83.54"/><use href="#m4" x="171.6" y="83.54"/><use href="#m4" x="172.79" y="83.54"/><use href="#m4" x="173.98" y="83.54"/><use href="#m4" x="175.17" y="83.54"/><use href="#m4" x="176.36" y="83.54"/><use href="#m4" x="177.55" y="83.54"/><use href="#m4" x="178.74" y="83.54"/><use href="#m4" x="179.94" y="83.54"/><use href="#m4" x="181.13" y="83.54"/><use href="#m4" x="182.32" y="83.54"/><use href="#m4" x="183.51" y="83.54"/><use href="#m4" x="184.7" y="83.54"/><use href="#m4" x="185.89" y="83.54"/><use href="#m4" x="187.08" y="83.54"/><use href="#m4" x="188.27" y="83.54"/><use href="#m4" x="189.46" y="83.54"/><use href="#m4" x="190.66" y="83.54"/><use href="#m4" x="191.85" y="83.54"/><use href="#m4" x="193.04" y="83.54"/><use href="#m4" x="194.23" y="83.54"/><use href="#m4" x="195.42" y="83.54"/><use href="#m4" x="196.61" y="83.54"/><use href="#m4" x="197.8" y="83.54"/><use href="#m4" x="198.99" y="83.54"/><use href="#m4" x="200.18" y="83.54"/><use href="#m4" x="201.38" y="83.54"/><use href="#m4" x="202.57" y="83.54"/><use href="#m4" x="203.76" y="83.54"/><use href="#m4" x="204.95" y="83.54"/><use href="#m4" x="206.14" y="83.54"/><use href="#m4" x="207.33" y="83.54"/><use href="#m4" x="208.52" y="83.54"/><use href="#m4" x="209.71" y="83.54"/><use href="#m4" x="210.9" y="83.54"/><use href="#m4" x="212.1" y="83.54"/><use href="#m4" x="213.29" y="83.54"/><use href="#m4" x="214.48" y="83.54"/><use href="#m4" x="215.67" y="83.54"/><use href="#m4" x="216.86" y="83.54"/><use href="#m4" x="218.05" y="83.54"/><use href="#m4" x="219.24" y="83.54"/><use href="#m4" x="220.43" y="83.54"/><use href="#m4" x="221.62" y="83.54"/><use href="#m4" x="222.82" y="83.54"/><use href="#m4" x="224.01" y="83.54"/><use href="#m4" x="225.2" y="83.54"/><use href="#m4" x="226.39" y="83.54"/><use href="#m4" x="227.58" y="83.54"/><use href="#m4" x="228.77" y="83.54"/><use href="#m4" x="229.96" y="83.54"/><use href="#m4" x="231.15" y="83.54"/><use href="#m4" x="232.34" y="83.54"/><use href="#m4" x="233.54" y="83.54"/><use href="#m4" x="234.73" y="83.54"/><use href="#m4" x="235.92" y="83.54"/><use href="#m4" x="237.11" y="83.54"/><use href="#m4" x="238.3" y="83.54"/><use href="#m4" x="239.49" y="83.54"/><use href="#m4" x="240.68" y="83.54"/><use href="#m4" x="241.87" y="83.54"/><use href="#m4" x="243.06" y="83.54"/><use href="#m4" x="244.26" y="83.54"/><use href="#m4" x="245.45" y="83.54"/><use href="#m4" x="246.64" y="83.54"/><use href="#m4" x="247.83" y="83.54"/><use href="#m4" x="249.02" y="83.54"/><use href="#m4" x="250.21" y="83.54"/><use href="#m4" x="251.4" y="83.54"/><use href="#m4" x="252.59" y="83.54"/><use href="#m4" x="253.78" y="83.54"/><use href="#m4" x="254.97" y="83.54"/><use href="#m4" x="256.17" y="83.54"/><use href="#m4" x="257.36" y="83.54"/><use href="#m4" x="258.55" y="83.54"/><use href="#m4" x="259.74" y="83.54"/><use href="#m4" x="260.93" y="83.54"/><use href="#m4" x="262.12" y="83.54"/><use href="#m4" x="263.31" y="83.54"/><use href="#m4" x="264.5" y="83.54"/><use href="#m4" x="265.69" y="83.54"/><use href="#m4" x="266.89" y="83.54"/><use href="#m4" x="268.08" y="83.54"/><use href="#m4" x="269.27" y="83.54"/><use href="#m4" x="270.46" y="83.54"/><use href="#m4" x="271.65" y="83.54"/><use href="#m4" x="272.84" y="83.54"/><use href="#m4" x="274.03" y="83.54"/><use href="#m4" x="275.22" y="83.54"/><use href="#m4" x="276.41" y="83.54"/><use href="#m4" x="277.61" y="83.54"/><use href="#m4" x="278.8" y="83.54"/><use href="#m4" x="279.99" y="83.54"/><use href="#m4" x="281.18" y="83.54"/><use href="#m4" x="282.37" y="83.54"/><use href="#m4" x="283.56" y="83.54"/><use href="#m4" x="284.75" y="83.54"/><use href="#m4" x="285.94" y="83.54"/><use href="#m4" x="287.13" y="83.54"/><use href="#m4" x="288.33" y="83.54"/><use href="#m4" x="289.52" y="83.54"/><use href="#m4" x="290.71" y="83.54"/><use href="#m4" x="291.9" y="83.54"/><use href="#m4" x="293.09" y="83.54"/><use href="#m4" x="294.28" y="83.54"/><use href="#m4" x="295.47" y="83.54"/><use href="#m4" x="296.66" y="83.54"/><use href="#m4" x="297.85" y="83.54"/><use href="#m4" x="299.05" y="83.54"/><use href="#m4" x="300.24" y="83.54"/><use href="#m4" x="301.43" y="83.54"/><use href="#m4" x="302.62" y="83.54"/><use href="#m4" x="303.81" y="83.54"/><use href="#m4" x="305" y="83.54"/><use href="#m4" x="306.19" y="83.54"/><use href="#m4" x="307.38" y="83.54"/><use href="#m4" x="308.57" y="83.54"/><use href="#m4" x="309.77" y="83.54"/><use href="#m4" x="310.96" y="83.54"/><use href="#m4" x="312.15" y="83.54"/><use href="#m4" x="313.34" y="83.54"/><use href="#m4" x="314.53" y="83.54"/><use href="#m4" x="315.72" y="83.54"/><use href="#m4" x="316.91" y="83.54"/><use href="#m4" x="318.1" y="83.54"/><use href="#m4" x="319.29" y="83.54"/><use href="#m4" x="320.49" y="83.54"/><use href="#m4" x="321.68" y="83.54"/><use href="#m4" x="322.87" y="83.54"/><use href="#m4" x="324.06" y="83.54"/><use href="#m4" x="325.25" y="83.54"/><use href="#m4" x="326.44" y="83.54"/><use href="#m4" x="327.63" y="83.54"/><use href="#m4" x="328.82" y="83.54"/><use href="#m4" x="330.01" y="83.54"/><use href="#m4" x="331.21" y="83.54"/><use href="#m4" x="332.4" y="83.54"/><use href="#m4" x="333.59" y="83.54"/><use href="#m4" x="334.78" y="83.54"/><use href="#m4" x="335.97" y="83.54"/><use href="#m4" x="337.16" y="83.54"/><use href="#m4" x="338.35" y="83.54"/><use href="#m4" x="339.54" y="83.54"/><use href="#m4" x="340.73" y="83.54"/><use href="#m4" x="341.93" y="83.54"/><use href="#m4" x="343.12" y="83.54"/><use href="#m4" x="344.31" y="83.54"/><use href="#m4" x="345.5" y="83.54"/><use href="#m4" x="346.69" y="83.54"/><use href="#m4" x="347.88" y="83.54"/><use href="#m4" x="349.07" y="83.54"/><use href="#m4" x="350.26" y="83.54"/><use href="#m4" x="351.45" y="83.54"/><use href="#m4" x="352.65" y="83.54"/><use href="#m4" x="353.84" y="83.54"/><use href="#m4" x="355.03" y="83.54"/><use href="#m4" x="356.22" y="83.54"/><use href="#m4" x="357.41" y="83.54"/><use href="#m4" x="358.6" y="83.54"/><use href="#m4" x="359.79" y="83.54"/><use href="#m4" x="360.98" y="83.54"/><use href="#m4" x="362.17" y="83.54"/><use href="#m4" x="363.37" y="83.54"/><use href="#m4" x="364.56" y="83.54"/><use href="#m4" x="365.75" y="83.54"/><use href="#m4" x="366.94" y="83.54"/><use href="#m4" x="368.13" y="83.54"/><use href="#m4" x="369.32" y="83.54"/><use href="#m4" x="370.51" y="83.54"/><use href="#m4" x="371.7" y="83.54"/><use href="#m4" x="372.89" y="83.54"/><use href="#m4" x="374.08" y="83.54"/><use href="#m4" x="375.28" y="83.54"/><use href="#m4" x="376.47" y="83.54"/><use href="#m4" x="377.66" y="83.54"/><use href="#m4" x="378.85" y="83.54"/><use href="#m4" x="380.04" y="83.54"/><use href="#m4" x="381.23" y="83.54"/><use href="#m4" x="382.42" y="83.54"/><use href="#m4" x="383.61" y="83.54"/><use href="#m4" x="384.8" y="83.54"/><use href="#m4" x="386" y="83.54"/><use href="#m4" x="387.19" y="83.54"/><use href="#m4" x="388.38" y="83.54"/><use href="#m4" x="389.57" y="83.54"/><use href="#m4" x="390.76" y="83.54"/><use href="#m4" x="391.95" y="83.54"/><use href="#m4" x="393.14" y="83.54"/><use href="#m4" x="394.33" y="83.54"/><use href="#m4" x="395.52" y="83.54"/><use href="#m4" x="396.72" y="83.54"/><use href="#m4" x="397.91" y="83.54"/><use href="#m4" x="399.1" y="83.54"/><use href="#m4" x="400.29" y="83.54"/><use href="#m4" x="401.48" y="83.54"/><use href="#m4" x="402.67" y="83.54"/><use href="#m4" x="403.86" y="83.54"/><use href="#m4" x="405.05" y="83.54"/><use href="#m4" x="406.24" y="83.54"/><use href="#m4" x="407.44" y="83.54"/><use href="#m4" x="408.63" y="83.54"/><use href="#m4" x="409.82" y="83.54"/><use href="#m4" x="411.01" y="83.54"/><use href="#m4" x="412.2" y="83.54"/><use href="#m4" x="413.39" y="83.54"/><use href="#m4" x="414.58" y="83.54"/><use href="#m4" x="415.77" y="83.54"/><use href="#m4" x="416.96" y="83.54"/><use href="#m4" x="418.16" y="83.54"/><use href="#m4" x="419.35" y="83.54"/><use href="#m4" x="420.54" y="83.54"/><use href="#m4" x="421.73" y="83.54"/><use href="#m4" x="422.92" y="83.54"/><use href="#m4" x="424.11" y="83.54"/><use href="#m4" x="425.3" y="83.54"/><use href="#m4" x="426.49" y="83.54"/><use href="#m4" x="427.68" y="83.54"/><use href="#m4" x="428.88" y="83.54"/><use href="#m4" x="430.07" y="83.54"/><use href="#m4" x="431.26" y="83.54"/><use href="#m4" x="432.45" y="83.54"/><use href="#m4" x="433.64" y="83.54"/><use href="#m4" x="434.83" y="83.54"/><use href="#m4" x="436.02" y="83.54"/><use href="#m4" x="437.21" y="83.54"/><use href="#m4" x="438.4" y="83.54"/><use href="#m4" x="439.6" y="83.54"/><use href="#m4" x="440.79" y="83.54"/><use href="#m4" x="441.98" y="83.54"/><use href="#m4" x="443.17" y="83.54"/><use href="#m4" x="444.36" y="83.54"/><use href="#m4" x="445.55" y="83.54"/><use href="#m4" x="446.74" y="83.54"/><use href="#m4" x="447.93" y="83.54"/><use href="#m4" x="449.12" y="83.54"/><use href="#m4" x="450.32" y="83.54"/><use href="#m4" x="451.51" y="83.54"/><use href="#m4" x="452.7" y="83.54"/><use href="#m4" x="453.89" y="83.54"/><use href="#m4" x="455.08" y="83.54"/><use href="#m4" x="456.27" y="83.54"/><use href="#m4" x="457.46" y="83.54"/><use href="#m4" x="458.65" y="83.54"/><use href="#m4" x="459.84" y="83.54"/><use href="#m4" x="461.04" y="83.54"/><use href="#m4" x="462.23" y="83.54"/><use href="#m4" x="463.42" y="83.54"/><use href="#m4" x="464.61" y="83.54"/><use href="#m4" x="465.8" y="83.54"/><use href="#m4" x="466.99" y="83.54"/><use href="#m4" x="468.18" y="83.54"/><use href="#m4" x="469.37" y="83.54"/><use href="#m4" x="470.56" y="83.54"/><use href="#m4" x="471.76" y="83.54"/><use href="#m4" x="472.95" y="83.54"/><use href="#m4" x="474.14" y="83.54"/><use href="#m4" x="475.33" y="83.54"/><use href="#m4" x="476.52" y="83.54"/><use href="#m4" x="477.71" y="83.54"/><use href="#m4" x="478.9" y="83.54"/><use href="#m4" x="480.09" y="83.54"/><use href="#m4" x="481.28" y="83.54"/><use href="#m4" x="482.48" y="83.54"/><use href="#m4" x="483.67" y="83.54"/><use href="#m4" x="484.86" y="83.54"/><use href="#m4" x="486.05" y="83.54"/><use href="#m4" x="487.24" y="83.54"/><use href="#m4" x="488.43" y="83.54"/><use href="#m4" x="489.62" y="83.54"/><use href="#m4" x="490.81" y="83.54"/><use href="#m4" x="492" y="83.54"/><use href="#m4" x="493.19" y="83.54"/><use href="#m4" x="494.39" y="83.54"/><use href="#m4" x="495.58" y="83.54"/><use href="#m4" x="496.77" y="83.54"/><use href="#m4" x="497.96" y="83.54"/><use href="#m4" x="499.15" y="83.54"/><use href="#m4" x="500.34" y="83.54"/><use href="#m4" x="501.53" y="83.54"/><use href="#m4" x="502.72" y="83.54"/><use href="#m4" x="503.91" y="83.54"/><use href="#m4" x="505.11" y="83.54"/><use href="#m4" x="506.3" y="83.54"/><use href="#m4" x="507.49" y="83.54"/><use href="#m4" x="508.68" y="83.54"/><use href="#m4" x="509.87" y="83.54"/><use href="#m4" x="511.06" y="83.54"/><use href="#m4" x="512.25" y="83.54"/><use href="#m4" x="513.44" y="83.54"/><use href="#m4" x="514.63" y="83.54"/><use href="#m4" x="515.83" y="83.54"/><use href="#m4" x="517.02" y="83.54"/><use href="#m4" x="518.21" y="83.54"/><use href="#m4" x="519.4" y="83.54"/><use href="#m4" x="520.59" y="83.54"/><use href="#m4" x="521.78" y="83.54"/><use href="#m4" x="522.97" y="83.54"/><use href="#m4" x="524.16" y="83.54"/><use href="#m4" x="525.35" y="83.54"/><use href="#m4" x="526.55" y="83.54"/><use href="#m4" x="527.74" y="83.54"/><use href="#m4" x="528.93" y="83.54"/><use href="#m4" x="530.12" y="83.54"/><use href="#m4" x="531.31" y="83.54"/><use href="#m4" x="532.5" y="83.54"/><use href="#m4" x="533.69" y="83.54"/><use href="#m4" x="534.88" y="83.54"/><use href="#m4" x="536.07" y="83.54"/><use href="#m4" x="537.27" y="83.54"/><use href="#m4" x="538.46" y="83.54"/><use href="#m4" x="539.65" y="83.54"/><use href="#m4" x="540.84" y="83.54"/><use href="#m4" x="542.03" y="83.54"/><use href="#m4" x="543.22" y="83.54"/><use href="#m4" x="544.41" y="83.54"/><use href="#m4" x="545.6" y="83.54"/><use href="#m4" x="546.79" y="83.54"/><use href="#m4" x="547.99" y="83.54"/><use href="#m4" x="549.18" y="83.54"/><use href="#m4" x="550.37" y="83.54"/><use href="#m4" x="551.56" y="83.54"/><use href="#m4" x="552.75" y="83.54"/><use href="#m4" x="553.94" y="83.54"/><use href="#m4" x="555.13" y="83.54"/><use href="#m4" x="556.32" y="83.54"/><use href="#m4" x="557.51" y="83.54"/><use href="#m4" x="558.71" y="83.54"/><use href="#m4" x="559.9" y="83.54"/><use href="#m4" x="561.09" y="83.54"/><use href="#m4" x="562.28" y="83.54"/><use href="#m4" x="563.47" y="83.54"/><use href="#m4" x="564.66" y="83.54"/><use href="#m4" x="565.85" y="83.54"/><use href="#m4" x="567.04" y="83.54"/><use href="#m4" x="568.23" y="83.54"/><use href="#m4" x="569.43" y="83.54"/><use href="#m4" x="570.62" y="83.54"/><use href="#m4" x="571.81" y="83.54"/><use href="#m4" x="573" y="83.54"/><use href="#m4" x="574.19" y="83.54"/><use href="#m4" x="575.38" y="83.54"/><use href="#m4" x="576.57" y="83.54"/><use href="#m4" x="577.76" y="83.54"/><use href="#m4" x="578.95" y="83.54"/><use href="#m4" x="580.15" y="83.54"/><use href="#m4" x="581.34" y="83.54"/><use href="#m4" x="582.53" y="83.54"/><use href="#m4" x="583.72" y="83.54"/><use href="#m4" x="584.91" y="83.54"/><use href="#m4" x="586.1" y="83.54"/><use href="#m4" x="587.29" y="83.54"/><use href="#m4" x="588.48" y="83.54"/><use href="#m4" x="589.67" y="83.54"/><use href="#m4" x="590.87" y="83.54"/><use href="#m4" x="592.06" y="83.54"/><use href="#m4" x="593.25" y="83.54"/><use href="#m4" x="594.44" y="83.54"/><use href="#m4" x="595.63" y="83.54"/><use href="#m4" x="596.82" y="83.54"/><use href="#m4" x="598.01" y="83.54"/><use href="#m4" x="599.2" y="83.54"/><use href="#m4" x="600.39" y="83.54"/><use href="#m4" x="601.59" y="83.54"/><use href="#m4" x="602.78" y="83.54"/><use href="#m4" x="603.97" y="83.54"/><use href="#m4" x="605.16" y="83.54"/><use href="#m4" x="606.35" y="83.54"/><use href="#m4" x="607.54" y="83.54"/><use href="#m4" x="608.73" y="83.54"/><use href="#m4" x="609.92" y="83.54"/><use href="#m4" x="611.11" y="83.54"/><use href="#m4" x="612.3" y="83.54"/><use href="#m4" x="613.5" y="83.54"/><use href="#m4" x="614.69" y="83.54"/><use href="#m4" x="615.88" y="83.54"/><use href="#m4" x="617.07" y="83.54"/><use href="#m4" x="618.26" y="83.54"/><use href="#m4" x="619.45" y="83.54"/><use href="#m4" x="620.64" y="83.54"/><use href="#m4" x="621.83" y="83.54"/><use href="#m4" x="623.02" y="83.54"/><use href="#m4" x="624.22" y="83.54"/><use href="#m4" x="625.41" y="83.54"/><use href="#m4" x="626.6" y="83.54"/><use href="#m4" x="627.79" y="83.54"/><use href="#m4" x="628.98" y="83.54"/><use href="#m4" x="630.17" y="83.54"/><use href="#m4" x="631.36" y="83.54"/><use href="#m4" x="632.55" y="83.54"/><use href="#m4" x="633.74" y="83.54"/><use href="#m4" x="634.94" y="83.54"/><use href="#m4" x="636.13" y="83.54"/><use href="#m4" x="637.32" y="83.54"/><use href="#m4" x="638.51" y="83.54"/><use href="#m4" x="639.7" y="83.54"/><use href="#m4" x="640.89" y="83.54"/><use href="#m4" x="642.08" y="83.54"/><use href="#m4" x="643.27" y="83.54"/><use href="#m4" x="644.46" y="83.54"/><use href="#m4" x="645.66" y="83.54"/><use href="#m4" x="646.85" y="83.54"/><use href="#m4" x="648.04" y="83.54"/><use href="#m4" x="649.23" y="83.54"/><use href="#m4" x="650.42" y="83.54"/><use href="#m4" x="651.61" y="83.54"/><use href="#m4" x="652.8" y="83.54"/><use href="#m4" x="653.99" y="83.54"/><use href="#m4" x="655.18" y="83.54"/><use href="#m4" x="656.38" y="83.54"/><use href="#m4" x="657.57" y="83.54"/><use href="#m4" x="658.76" y="83.54"/><use href="#m4" x="659.95" y="83.54"/>
</g>
<g>
<polyline clip-path="url(#ax)" points="113.23,-203.78 114.43,-174.89 115.62,-146.01 116.81,-117.13 118,-88.25 119.19,-59.37 120.38,-30.49 121.57,-1.61 122.76,27.27 123.95,56.15 125.15,56.15 126.34,56.15 127.53,56.15 128.72,56.15 129.91,56.15 131.1,56.15 132.29,56.15 133.48,56.15 134.67,56.15 135.86,56.15 137.06,56.15 138.25,56.15 139.44,56.15 140.63,56.15 141.82,56.15 143.01,56.15 144.2,56.15 145.39,56.15 146.58,56.15 147.78,56.15 148.97,56.15 150.16,56.15 151.35,56.15 152.54,56.15 153.73,56.15 154.92,56.15 156.11,56.15 157.3,56.15 158.5,56.15 159.69,56.15 160.88,56.15 162.07,56.15 163.26,56.15 164.45,56.15 165.64,56.15 166.83,56.15 168.02,56.15 169.22,56.15 170.41,56.15 171.6,56.15 172.79,56.15 173.98,56.15 175.17,56.15 176.36,56.15 177.55,56.15 178.74,56.15 179.94,56.15 181.13,56.15 182.32,56.15 183.51,56.15 184.7,56.15 185.89,56.15 187.08,56.15 188.27,56.15 189.46,56.15 190.66,56.15 191.85,56.15 193.04,56.15 194.23,56.15 195.42,56.15 196.61,56.15 197.8,56.15 198.99,56.15 200.18,56.15 201.38,56.15 202.57,56.15 203.76,56.15 204.95,56.15 206.14,56.15 207.33,56.15 208.52,56.15 209.71,56.15 210.9,56.15 212.1,56.15 213.29,56.15 214.48,56.15 215.67,56.15 216.86,56.15 218.05,56.15 219.24,56.15 220.43,56.15 221.62,56.15 222.82,56.15 224.01,56.15 225.2,56.15 226.39,56.15 227.58,56.15 228.77,56.15 229.96,56.15 231.15,56.15 232.34,56.15 233.54,56.15 234.73,56.15 235.92,56.15 237.11,56.15 238.3,56.15 239.49,56.15 240.68,56.15 241.87,56.15 243.06,56.15 244.26,56.15 245.45,56.15 246.64,56.15 247.83,56.15 249.02,56.15 250.21,56.15 251.4,56.15 252.59,56.15 253.78,56.15 254.97,56.15 256.17,56.15 257.36,56.15 258.55,56.15 259.74,56.15 260.93,56.15 262.12,56.15 263.31,56.15 264.5,56.15 265.69,56.15 266.89,56.15 268.08,56.15 269.27,56.15 270.46,56.15 271.65,56.15 272.84,56.15 274.03,56.15 275.22,56.15 276.41,56.15 277.61,56.15 278.8,56.15 279.99,56.15 281.18,56.15 282.37,56.15 283.56,56.15 284.75,56.15 285.94,56.15 287.13,56.15 288.33,56.15 289.52,56.15 290.71,56.15 291.9,56.15 293.09,56.15 294.28,56.15 295.47,56.15 296.66,56.15 297.85,56.15 299.05,56.15 300.24,56.15 301.43,56.15 302.62,56.15 303.81,56.15 305,56.15 306.19,56.15 307.38,56.15 308.57,56.15 309.77,56.15 310.96,56.15 312.15,56.15 313.34,56.15 314.53,56.15 315.72,56.15 316.91,56.15 318.1,56.15 319.29,56.15 320.49,56.15 321.68,56.15 322.87,56.15 324.06,56.15 325.25,56.15 326.44,56.15 327.63,56.15 328.82,56.15 330.01,56.15 331.21,56.15 332.4,56.15 333.59,56.15 334.78,56.15 335.97,56.15 337.16,56.15 338.35,56.15 339.54,56.15 340.73,56.15 341.93,56.15 343.12,56.15 344.31,56.15 345.5,56.15 346.69,56.15 347.88,56.15 349.07,56.15 350.26,56.15 351.45,56.15 352.65,56.15 353.84,56.15 355.03,56.15 356.22,56.15 357.41,56.15 358.6,56.15 359.79,56.15 360.98,56.15 362.17,56.15 363.37,56.15 364.56,56.15 365.75,56.15 366.94,56.15 368.13,56.15 369.32,56.15 370.51,56.15 371.7,56.15 372.89,56.15 374.08,56.15 375.28,56.15 376.47,56.15 377.66,56.15 378.85,56.15 380.04,56.15 381.23,56.15 382.42,56.15 383.61,56.15 384.8,56.15 386,56.15 387.19,56.15 388.38,56.15 389.57,56.15 390.76,56.15 391.95,56.15 393.14,56.15 394.33,56.15 395.52,56.15 396.72,56.15 397.91,56.15 399.1,56.15 400.29,56.15 401.48,56.15 402.67,56.15 403.86,56.15 405.05,56.15 406.24,56.15 407.44,56.15 408.63,56.15 409.82,56.15 411.01,56.15 412.2,56.15 413.39,56.15 414.58,56.15 415.77,56.15 416.96,56.15 418.16,56.15 419.35,56.15 420.54,56.15 421.73,56.15 422.92,56.15 424.11,56.15 425.3,56.15 426.49,56.15 427.68,56.15 428.88,56.15 430.07,56.15 431.26,56.15 432.45,56.15 433.64,56.15 434.83,56.15 436.02,56.15 437.21,56.15 438.4,56.15 439.6,56.15 440.79,56.15 441.98,56.15 443.17,56.15 444.36,56.15 445.55,56.15 446.74,56.15 447.93,56.15 449.12,56.15 450.32,56.15 451.51,56.15 452.7,56.15 453.89,56.15 455.08,56.15 456.27,56.15 457.46,56.15 458.65,56.15 459.84,56.15 461.04,56.15 462.23,56.15 463.42,56.15 464.61,56.15 465.8,56.15 466.99,56.15 468.18,56.15 469.37,56.15 470.56,56.15 471.76,56.15 472.95,56.15 474.14,56.15 475.33,56.15 476.52,56.15 477.71,56.15 478.9,56.15 480.09,56.15 481.28,56.15 482.48,56.15 483.67,56.15 484.86,56.15 486.05,56.15 487.24,56.15 488.43,56.15 489.62,56.15 490.81,56.15 492,56.15 493.19,56.15 494.39,56.15 495.58,56.15 496.77,56.15 497.96,56.15 499.15,56.15 500.34,56.15 501.53,56.15 502.72,56.15 503.91,56.15 505.11,56.15 506.3,56.15 507.49,56.15 508.68,56.15 509.87,56.15 511.06,56.15 512.25,56.15 513.44,56.15 514.63,56.15 515.83,56.15 517.02,56.15 518.21,56.15 519.4,56.15 520.59,56.15 521.78,56.15 522.97,56.15 524.16,56.15 525.35,56.15 526.55,56.15 527.74,56.15 528.93,56.15 530.12,56.15 531.31,56.15 532.5,56.15 533.69,56.15 534.88,56.15 536.07,56.15 537.27,56.15 538.46,56.15 539.65,56.15 540.84,56.15 542.03,56.15 543.22,56.15 544.41,56.15 545.6,56.15 546.79,56.15 547.99,56.15 549.18,56.15 550.37,56.15 551.56,56.15 552.75,56.15 553.94,56.15 555.13,56.15 556.32,56.15 557.51,56.15 558.71,56.15 559.9,56.15 561.09,56.15 562.28,56.15 563.47,56.15 564.66,56.15 565.85,56.15 567.04,56.15 568.23,56.15 569.43,56.15 570.62,56.15 571.81,56.15 573,56.15 574.19,56.15 575.38,56.15 576.57,56.15 577.76,56.15 578.95,56.15 580.15,56.15 581.34,56.15 582.53,56.15 583.72,56.15 584.91,56.15 586.1,56.15 587.29,56.15 588.48,56.15 589.67,56.15 590.87,56.15 592.06,56.15 593.25,56.15 594.44,56.15 595.63,56.15 596.82,56.15 598.01,56.15 599.2,56.15 600.39,56.15 601.59,56.15 602.78,56.15 603.97,56.15 605.16,56.15 606.35,56.15 607.54,56.15 608.73,56.15 609.92,56.15 611.11,56.15 612.3,56.15 613.5,56.15 614.69,56.15 615.88,56.15 617.07,56.15 618.26,56.15 619.45,56.15 620.64,56.15 621.83,56.15 623.02,56.15 624.22,56.15 625.41,56.15 626.6,56.15 627.79,56.15 628.98,56.15 630.17,56.15 631.36,56.15 632.55,56.15 633.74,56.15 634.94,56.15 636.13,56.15 637.32,56.15 638.51,56.15 639.7,56.15 640.89,56.15 642.08,56.15 643.27,56.15 644.46,56.15 645.66,56.15 646.85,56.15 648.04,56.15 649.23,56.15 650.42,56.15 651.61,56.15 652.8,56.15 653.99,56.15 655.18,56.15 656.38,56.15 657.57,56.15 658.76,56.15 659.95,56.15" fill="none" stroke="#800080" stroke-width="2.5" stroke-linejoin="round"/>
<use href="#m5" x="122.76" y="27.27"/><use href="#m5" x="123.95" y="56.15"/><use href="#m5" x="125.15" y="56.15"/><use href="#m5" x="126.34" y="56.15"/><use href="#m5" x="127.53" y="56.15"/><use href="#m5" x="128.72" y="56.15"/><use href="#m5" x="129.91" y="56.15"/><use href="#m5" x="131.1" y="56.15"/><use href="#m5" x="132.29" y="56.15"/><use href="#m5" x="133.48" y="56.15"/><use href="#m5" x="134.67" y="56.15"/><use href="#m5" x="135.86" y="56.15"/><use href="#m5" x="137.06" y="56.15"/><use href="#m5" x="138.25" y="56.15"/><use href="#m5" x="139.44" y="56.15"/><use href="#m5" x="140.63" y="56.15"/><use href="#m5" x="141.82" y="56.15"/><use href="#m5" x="143.01" y="56.15"/><use href="#m5" x="144.2" y="56.15"/><use href="#m5" x="145.39" y="56.15"/><use href="#m5" x="146.58" y="56.15"/><use href="#m5" x="147.78" y="56.15"/><use href="#m5" x="148.97" y="56.15"/><use href="#m5" x="150.16" y="56.15"/><use href="#m5" x="151.35" y="56.15"/><use href="#m5" x="152.54" y="56.15"/><use href="#m5" x="153.73" y="56.15"/><use href="#m5" x="154.92" y="56.15"/><use href="#m5" x="156.11" y="56.15"/><use href="#m5" x="157.3" y="56.15"/><use href="#m5" x="158.5" y="56.15"/><use href="#m5" x="159.69" y="56.15"/><use href="#m5" x="160.88" y="56.15"/><use href="#m5" x="162.07" y="56.15"/><use href="#m5" x="163.26" y="56.15"/><use href="#m5" x="164.45" y="56.15"/><use href="#m5" x="165.64" y="56.15"/><use href="#m5" x="166.83" y="56.15"/><use href="#m5" x="168.02" y="56.15"/><use href="#m5" x="169.22" y="56.15"/><use href="#m5" x="170.41" y="56.15"/><use href="#m5" x="171.6" y="56.15"/><use href="#m5" x="172.79" y="56.15"/><use href="#m5" x="173.98" y="56.15"/><use href="#m5" x="175.17" y="56.15"/><use href="#m5" x="176.36" y="56.15"/><use href="#m5" x="177.55" y="56.15"/><use href="#m5" x="178.74" y="56.15"/><use href="#m5" x="179.94" y="56.15"/><use href="#m5" x="181.13" y="56.15"/><use href="#m5" x="182.32" y="56.15"/><use href="#m5" x="183.51" y="56.15"/><use href="#m5" x="184.7" y="56.15"/><use href="#m5" x="185.89" y="56.15"/><use href="#m5" x="187.08" y="56.15"/><use href="#m5" x="188.27" y="56.15"/><use href="#m5" x="189.46" y="56.15"/><use href="#m5" x="190.66" y="56.15"/><use href="#m5" x="191.85" y="56.15"/><use href="#m5" x="193.04" y="56.15"/><use href="#m5" x="194.23" y="56.15"/><use href="#m5" x="195.42" y="56.15"/><use href="#m5" x="196.61" y="56.15"/><use href="#m5" x="197.8" y="56.15"/><use href="#m5" x="198.99" y="56.15"/><use href="#m5" x="200.18" y="56.15"/><use href="#m5" x="201.38" y="56.15"/><use href="#m5" x="202.57" y="56.15"/><use href="#m5" x="203.76" y="56.15"/><use href="#m5" x="204.95" y="56.15"/><use href="#m5" x="206.14" y="56.15"/><use href="#m5" x="207.33" y="56.15"/><use href="#m5" x="208.52" y="56.15"/><use href="#m5" x="209.71" y="56.15"/><use href="#m5" x="210.9" y="56.15"/><use href="#m5" x="212.1" y="56.15"/><use href="#m5" x="213.29" y="56.15"/><use href="#m5" x="214.48" y="56.15"/><use href="#m5" x="215.67" y="56.15"/><use href="#m5" x="216.86" y="56.15"/><use href="#m5" x="218.05" y="56.15"/><use href="#m5" x="219.24" y="56.15"/><use href="#m5" x="220.43" y="56.15"/><use href="#m5" x="221.62" y="56.15"/><use href="#m5" x="222.82" y="56.15"/><use href="#m5" x="224.01" y="56.15"/><use href="#m5" x="225.2" y="56.15"/><use href="#m5" x="226.39" y="56.15"/><use href="#m5" x="227.58" y="56.15"/><use href="#m5" x="228.77" y="56.15"/><use href="#m5" x="229.96" y="56.15"/><use href="#m5" x="231.15" y="56.15"/><use href="#m5" x="232.34" y="56.15"/><use href="#m5" x="233.54" y="56.15"/><use href="#m5" x="234.73" y="56.15"/><use href="#m5" x="235.92" y="56.15"/><use href="#m5" x="237.11" y="56.15"/><use href="#m5" x="238.3" y="56.15"/><use href="#m5" x="239.49" y="56.15"/><use href="#m5" x="240.68" y="56.15"/><use href="#m5" x="241.87" y="56.15"/><use href="#m5" x="243.06" y="56.15"/><use href="#m5" x="244.26" y="56.15"/><use href="#m5" x="245.45" y="56.15"/><use href="#m5" x="246.64" y="56.15"/><use href="#m5" x="247.83" y="56.15"/><use href="#m5" x="249.02" y="56.15"/><use href="#m5" x="250.21" y="56.15"/><use href="#m5" x="251.4" y="56.15"/><use href="#m5" x="252.59" y="56.15"/><use href="#m5" x="253.78" y="56.15"/><use href="#m5" x="254.97" y="56.15"/><use href="#m5" x="256.17" y="56.15"/><use href="#m5" x="257.36" y="56.15"/><use href="#m5" x="258.55" y="56.15"/><use href="#m5" x="259.74" y="56.15"/><use href="#m5" x="260.93" y="56.15"/><use href="#m5" x="262.12" y="56.15"/><use href="#m5" x="263.31" y="56.15"/><use href="#m5" x="264.5" y="56.15"/><use href="#m5" x="265.69" y="56.15"/><use href="#m5" x="266.89" y="56.15"/><use href="#m5" x="268.08" y="56.15"/><use href="#m5" x="269.27" y="56.15"/><use href="#m5" x="270.46" y="56.15"/><use href="#m5" x="271.65" y="56.15"/><use href="#m5" x="272.84" y="56.15"/><use href="#m5" x="274.03" y="56.15"/><use href="#m5" x="275.22" y="56.15"/><use href="#m5" x="276.41" y="56.15"/><use href="#m5" x="277.61" y="56.15"/><use href="#m5" x="278.8" y="56.15"/><use href="#m5" x="279.99" y="56.15"/><use href="#m5" x="281.18" y="56.15"/><use href="#m5" x="282.37" y="56.15"/><use href="#m5" x="283.56" y="56.15"/><use href="#m5" x="284.75" y="56.15"/><use href="#m5" x="285.94" y="56.15"/><use href="#m5" x="287.13" y="56.15"/><use href="#m5" x="288.33" y="56.15"/><use href="#m5" x="289.52" y="56.15"/><use href="#m5" x="290.71" y="56.15"/><use href="#m5" x="291.9" y="56.15"/><use href="#m5" x="293.09" y="56.15"/><use href="#m5" x="294.28" y="56.15"/><use href="#m5" x="295.47" y="56.15"/><use href="#m5" x="296.66" y="56.15"/><use href="#m5" x="297.85" y="56.15"/><use href="#m5" x="299.05" y="56.15"/><use href="#m5" x="300.24" y="56.15"/><use href="#m5" x="301.43" y="56.15"/><use href="#m5" x="302.62" y="56.15"/><use href="#m5" x="303.81" y="56.15"/><use href="#m5" x="305" y="56.15"/><use href="#m5" x="306.19" y="56.15"/><use href="#m5" x="307.38" y="56.15"/><use href="#m5" x="308.57" y="56.15"/><use href="#m5" x="309.77" y="56.15"/><use href="#m5" x="310.96" y="56.15"/><use href="#m5" x="312.15" y="56.15"/><use href="#m5" x="313.34" y="56.15"/><use href="#m5" x="314.53" y="56.15"/><use href="#m5" x="315.72" y="56.15"/><use href="#m5" x="316.91" y="56.15"/><use href="#m5" x="318.1" y="56.15"/><use href="#m5" x="319.29" y="56.15"/><use href="#m5" x="320.49" y="56.15"/><use href="#m5" x="321.68" y="56.15"/><use href="#m5" x="322.87" y="56.15"/><use href="#m5" x="324.06" y="56.15"/><use href="#m5" x="325.25" y="56.15"/><use href="#m5" x="326.44" y="56.15"/><use href="#m5" x="327.63" y="56.15"/><use href="#m5" x="328.82" y="56.15"/><use href="#m5" x="330.01" y="56.15"/><use href="#m5" x="331.21" y="56.15"/><use href="#m5" x="332.4" y="56.15"/><use href="#m5" x="333.59" y="56.15"/><use href="#m5" x="334.78" y="56.15"/><use href="#m5" x="335.97" y="56.15"/><use href="#m5" x="337.16" y="56.15"/><use href="#m5" x="338.35" y="56.15"/><use href="#m5" x="339.54" y="56.15"/><use href="#m5" x="340.73" y="56.15"/><use href="#m5" x="341.93" y="56.15"/><use href="#m5" x="343.12" y="56.15"/><use href="#m5" x="344.31" y="56.15"/><use href="#m5" x="345.5" y="56.15"/><use href="#m5" x="346.69" y="56.15"/><use href="#m5" x="347.88" y="56.15"/><use href="#m5" x="349.07" y="56.15"/><use href="#m5" x="350.26" y="56.15"/><use href="#m5" x="351.45" y="56.15"/><use href="#m5" x="352.65" y="56.15"/><use href="#m5" x="353.84" y="56.15"/><use href="#m5" x="355.03" y="56.15"/><use href="#m5" x="356.22" y="56.15"/><use href="#m5" x="357.41" y="56.15"/><use href="#m5" x="358.6" y="56.15"/><use href="#m5" x="359.79" y="56.15"/><use href="#m5" x="360.98" y="56.15"/><use href="#m5" x="362.17" y="56.15"/><use href="#m5" x="363.37" y="56.15"/><use href="#m5" x="364.56" y="56.15"/><use href="#m5" x="365.75" y="56.15"/><use href="#m5" x="366.94" y="56.15"/><use href="#m5" x="368.13" y="56.15"/><use href="#m5" x="369.32" y="56.15"/><use href="#m5" x="370.51" y="56.15"/><use href="#m5" x="371.7" y="56.15"/><use href="#m5" x="372.89" y="56.15"/><use href="#m5" x="374.08" y="56.15"/><use href="#m5" x="375.28" y="56.15"/><use href="#m5" x="376.47" y="56.15"/><use href="#m5" x="377.66" y="56.15"/><use href="#m5" x="378.85" y="56.15"/><use href="#m5" x="380.04" y="56.15"/><use href="#m5" x="381.23" y="56.15"/><use href="#m5" x="382.42" y="56.15"/><use href="#m5" x="383.61" y="56.15"/><use href="#m5" x="384.8" y="56.15"/><use href="#m5" x="386" y="56.15"/><use href="#m5" x="387.19" y="56.15"/><use href="#m5" x="388.38" y="56.15"/><use href="#m5" x="389.57" y="56.15"/><use href="#m5" x="390.76" y="56.15"/><use href="#m5" x="391.95" y="56.15"/><use href="#m5" x="393.14" y="56.15"/><use href="#m5" x="394.33" y="56.15"/><use href="#m5" x="395.52" y="56.15"/><use href="#m5" x="396.72" y="56.15"/><use href="#m5" x="397.91" y="56.15"/><use href="#m5" x="399.1" y="56.15"/><use href="#m5" x="400.29" y="56.15"/><use href="#m5" x="401.48" y="56.15"/><use href="#m5" x="402.67" y="56.15"/><use href="#m5" x="403.86" y="56.15"/><use href="#m5" x="405.05" y="56.15"/><use href="#m5" x="406.24" y="56.15"/><use href="#m5" x="407.44" y="56.15"/><use href="#m5" x="408.63" y="56.15"/><use href="#m5" x="409.82" y="56.15"/><use href="#m5" x="411.01" y="56.15"/><use href="#m5" x="412.2" y="56.15"/><use href="#m5" x="413.39" y="56.15"/><use href="#m5" x="414.58" y="56.15"/><use href="#m5" x="415.77" y="56.15"/><use href="#m5" x="416.96" y="56.15"/><use href="#m5" x="418.16" y="56.15"/><use href="#m5" x="419.35" y="56.15"/><use href="#m5" x="420.54" y="56.15"/><use href="#m5" x="421.73" y="56.15"/><use href="#m5" x="422.92" y="56.15"/><use href="#m5" x="424.11" y="56.15"/><use href="#m5" x="425.3" y="56.15"/><use href="#m5" x="426.49" y="56.15"/><use href="#m5" x="427.68" y="56.15"/><use href="#m5" x="428.88" y="56.15"/><use href="#m5" x="430.07" y="56.15"/><use href="#m5" x="431.26" y="56.15"/><use href="#m5" x="432.45" y="56.15"/><use href="#m5" x="433.64" y="56.15"/><use href="#m5" x="434.83" y="56.15"/><use href="#m5" x="436.02" y="56.15"/><use href="#m5" x="437.21" y="56.15"/><use href="#m5" x="438.4" y="56.15"/><use href="#m5" x="439.6" y="56.15"/><use href="#m5" x="440.79" y="56.15"/><use href="#m5" x="441.98" y="56.15"/><use href="#m5" x="443.17" y="56.15"/><use href="#m5" x="444.36" y="56.15"/><use href="#m5" x="445.55" y="56.15"/><use href="#m5" x="446.74" y="56.15"/><use href="#m5" x="447.93" y="56.15"/><use href="#m5" x="449.12" y="56.15"/><use href="#m5" x="450.32" y="56.15"/><use href="#m5" x="451.51" y="56.15"/><use href="#m5" x="452.7" y="56.15"/><use href="#m5" x="453.89" y="56.15"/><use href="#m5" x="455.08" y="56.15"/><use href="#m5" x="456.27" y="56.15"/><use href="#m5" x="457.46" y="56.15"/><use href="#m5" x="458.65" y="56.15"/><use href="#m5" x="459.84" y="56.15"/><use href="#m5" x="461.04" y="56.15"/><use href="#m5" x="462.23" y="56.15"/><use href="#m5" x="463.42" y="56.15"/><use href="#m5" x="464.61" y="56.15"/><use href="#m5" x="465.8" y="56.15"/><use href="#m5" x="466.99" y="56.15"/><use href="#m5" x="468.18" y="56.15"/><use href="#m5" x="469.37" y="56.15"/><use href="#m5" x="470.56" y="56.15"/><use href="#m5" x="471.76" y="56.15"/><use href="#m5" x="472.95" y="56.15"/><use href="#m5" x="474.14" y="56.15"/><use href="#m5" x="475.33" y="56.15"/><use href="#m5" x="476.52" y="56.15"/><use href="#m5" x="477.71" y="56.15"/><use href="#m5" x="478.9" y="56.15"/><use href="#m5" x="480.09" y="56.15"/><use href="#m5" x="481.28" y="56.15"/><use href="#m5" x="482.48" y="56.15"/><use href="#m5" x="483.67" y="56.15"/><use href="#m5" x="484.86" y="56.15"/><use href="#m5" x="486.05" y="56.15"/><use href="#m5" x="487.24" y="56.15"/><use href="#m5" x="488.43" y="56.15"/><use href="#m5" x="489.62" y="56.15"/><use href="#m5" x="490.81" y="56.15"/><use href="#m5" x="492" y="56.15"/><use href="#m5" x="493.19" y="56.15"/><use href="#m5" x="494.39" y="56.15"/><use href="#m5" x="495.58" y="56.15"/><use href="#m5" x="496.77" y="56.15"/><use href="#m5" x="497.96" y="56.15"/><use href="#m5" x="499.15" y="56.15"/><use href="#m5" x="500.34" y="56.15"/><use href="#m5" x="501.53" y="56.15"/><use href="#m5" x="502.72" y="56.15"/><use href="#m5" x="503.91" y="56.15"/><use href="#m5" x="505.11" y="56.15"/><use href="#m5" x="506.3" y="56.15"/><use href="#m5" x="507.49" y="56.15"/><use href="#m5" x="508.68" y="56.15"/><use href="#m5" x="509.87" y="56.15"/><use href="#m5" x="511.06" y="56.15"/><use href="#m5" x="512.25" y="56.15"/><use href="#m5" x="513.44" y="56.15"/><use href="#m5" x="514.63" y="56.15"/><use href="#m5" x="515.83" y="56.15"/><use href="#m5" x="517.02" y="56.15"/><use href="#m5" x="518.21" y="56.15"/><use href="#m5" x="519.4" y="56.15"/><use href="#m5" x="520.59" y="56.15"/><use href="#m5" x="521.78" y="56.15"/><use href="#m5" x="522.97" y="56.15"/><use href="#m5" x="524.16" y="56.15"/><use href="#m5" x="525.35" y="56.15"/><use href="#m5" x="526.55" y="56.15"/><use href="#m5" x="527.74" y="56.15"/><use href="#m5" x="528.93" y="56.15"/><use href="#m5" x="530.12" y="56.15"/><use href="#m5" x="531.31" y="56.15"/><use href="#m5" x="532.5" y="56.15"/><use href="#m5" x="533.69" y="56.15"/><use href="#m5" x="534.88" y="56.15"/><use href="#m5" x="536.07" y="56.15"/><use href="#m5" x="537.27" y="56.15"/><use href="#m5" x="538.46" y="56.15"/><use href="#m5" x="539.65" y="56.15"/><use href="#m5" x="540.84" y="56.15"/><use href="#m5" x="542.03" y="56.15"/><use href="#m5" x="543.22" y="56.15"/><use href="#m5" x="544.41" y="56.15"/><use href="#m5" x="545.6" y="56.15"/><use href="#m5" x="546.79" y="56.15"/><use href="#m5" x="547.99" y="56.15"/><use href="#m5" x="549.18" y="56.15"/><use href="#m5" x="550.37" y="56.15"/><use href="#m5" x="551.56" y="56.15"/><use href="#m5" x="552.75" y="56.15"/><use href="#m5" x="553.94" y="56.15"/><use href="#m5" x="555.13" y="56.15"/><use href="#m5" x="556.32" y="56.15"/><use href="#m5" x="557.51" y="56.15"/><use href="#m5" x="558.71" y="56.15"/><use href="#m5" x="559.9" y="56.15"/><use href="#m5" x="561.09" y="56.15"/><use href="#m5" x="562.28" y="56.15"/><use href="#m5" x="563.47" y="56.15"/><use href="#m5" x="564.66" y="56.15"/><use href="#m5" x="565.85" y="56.15"/><use href="#m5" x="567.04" y="56.15"/><use href="#m5" x="568.23" y="56.15"/><use href="#m5" x="569.43" y="56.15"/><use href="#m5" x="570.62" y="56.15"/><use href="#m5" x="571.81" y="56.15"/><use href="#m5" x="573" y="56.15"/><use href="#m5" x="574.19" y="56.15"/><use href="#m5" x="575.38" y="56.15"/><use href="#m5" x="576.57" y="56.15"/><use href="#m5" x="577.76" y="56.15"/><use href="#m5" x="578.95" y="56.15"/><use href="#m5" x="580.15" y="56.15"/><use href="#m5" x="581.34" y="56.15"/><use href="#m5" x="582.53" y="56.15"/><use href="#m5" x="583.72" y="56.15"/><use href="#m5" x="584.91" y="56.15"/><use href="#m5" x="586.1" y="56.15"/><use href="#m5" x="587.29" y="56.15"/><use href="#m5" x="588.48" y="56.15"/><use href="#m5" x="589.67" y="56.15"/><use href="#m5" x="590.87" y="56.15"/><use href="#m5" x="592.06" y="56.15"/><use href="#m5" x="593.25" y="56.15"/><use href="#m5" x="594.44" y="56.15"/><use href="#m5" x="595.63" y="56.15"/><use href="#m5" x="596.82" y="56.15"/><use href="#m5" x="598.01" y="56.15"/><use href="#m5" x="599.2" y="56.15"/><use href="#m5" x="600.39" y="56.15"/><use href="#m5" x="601.59" y="56.15"/><use href="#m5" x="602.78" y="56.15"/><use href="#m5" x="603.97" y="56.15"/><use href="#m5" x="605.16" y="56.15"/><use href="#m5" x="606.35" y="56.15"/><use href="#m5" x="607.54" y="56.15"/><use href="#m5" x="608.73" y="56.15"/><use href="#m5" x="609.92" y="56.15"/><use href="#m5" x="611.11" y="56.15"/><use href="#m5" x="612.3" y="56.15"/><use href="#m5" x="613.5" y="56.15"/><use href="#m5" x="614.69" y="56.15"/><use href="#m5" x="615.88" y="56.15"/><use href="#m5" x="617.07" y="56.15"/><use href="#m5" x="618.26" y="56.15"/><use href="#m5" x="619.45" y="56.15"/><use href="#m5" x="620.64" y="56.15"/><use href="#m5" x="621.83" y="56.15"/><use href="#m5" x="623.02" y="56.15"/><use href="#m5" x="624.22" y="56.15"/><use href="#m5" x="625.41" y="56.15"/><use href="#m5" x="626.6" y="56.15"/><use href="#m5" x="627.79" y="56.15"/><use href="#m5" x="628.98" y="56.15"/><use href="#m5" x="630.17" y="56.15"/><use href="#m5" x="631.36" y="56.15"/><use href="#m5" x="632.55" y="56.15"/><use href="#m5" x="633.74" y="56.15"/><use href="#m5" x="634.94" y="56.15"/><use href="#m5" x="636.13" y="56.15"/><use href="#m5" x="637.32" y="56.15"/><use href="#m5" x="638.51" y="56.15"/><use href="#m5" x="639.7" y="56.15"/><use href="#m5" x="640.89" y="56.15"/><use href="#m5" x="642.08" y="56.15"/><use href="#m5" x="643.27" y="56.15"/><use href="#m5" x="644.46" y="56.15"/><use href="#m5" x="645.66" y="56.15"/><use href="#m5" x="646.85" y="56.15"/><use href="#m5" x="648.04" y="56.15"/><use href="#m5" x="649.23" y="56.15"/><use href="#m5" x="650.42" y="56.15"/><use href="#m5" x="651.61" y="56.15"/><use href="#m5" x="652.8" y="56.15"/><use href="#m5" x="653.99" y="56.15"/><use href="#m5" x="655.18" y="56.15"/><use href="#m5" x="656.38" y="56.15"/><use href="#m5" x="657.57" y="56.15"/><use href="#m5" x="658.76" y="56.15"/><use href="#m5" x="659.95" y="56.15"/>
</g>
<text transform="translate(56.6 23.2) rotate(0.03) scale(1.03 1.04)" font-size="32" fill="#262626" text-anchor="end">5</text>
<text transform="translate(56.6 113.8) rotate(0.03) scale(1.03 1.04)" font-size="32" fill="#262626" text-anchor="end">4</text>
<text transform="translate(56.6 205.7) rotate(0.03) scale(1.03 1.04)" font-size="32" fill="#262626" text-anchor="end">3</text>
<text transform="translate(56.6 297) rotate(0.03) scale(1.03 1.04)" font-size="32" fill="#262626" text-anchor="end">2</text>
<text transform="translate(56.6 388.4) rotate(0.03) scale(1.03 1.04)" font-size="32" fill="#262626" text-anchor="end">1</text>
<text transform="translate(56.6 479.7) rotate(0.03) scale(1.03 1.04)" font-size="32" fill="#262626" text-anchor="end">0</text>
<text transform="translate(183.51 508.5) rotate(0.03) scale(1 1.04)" font-size="32" fill="#262626" text-anchor="middle">100</text>
<text transform="translate(302.62 508.5) rotate(0.03) scale(1 1.04)" font-size="32" fill="#262626" text-anchor="middle">200</text>
<text transform="translate(421.73 508.5) rotate(0.03) scale(1 1.04)" font-size="32" fill="#262626" text-anchor="middle">300</text>
<text transform="translate(540.84 508.5) rotate(0.03) scale(1 1.04)" font-size="32" fill="#262626" text-anchor="middle">400</text>
<text transform="translate(659.95 508.5) rotate(0.03) scale(1 1.04)" font-size="32" fill="#262626" text-anchor="middle">500</text>
<text transform="translate(363.05 553.4) rotate(0.03) scale(1 1.04)" font-size="35" fill="#262626" text-anchor="middle">Iteration</text>
<text transform="translate(26.7 238.1) rotate(-90) scale(1.019 1.04)" font-size="35" fill="#262626" text-anchor="middle">Execution Time (s)</text>
<rect x="248.3" y="207" width="261.6" height="245.8" fill="#fff" stroke="#262626" stroke-width="1.4"/>
<path d="M252 229.3H292" stroke="#4DBEEE" stroke-width="2" fill="none"/>
<use href="#m0" x="271.65" y="229.3"/>
<text transform="translate(295 241.7) rotate(0.03) scale(1 1.04)" font-size="32" fill="#000" text-anchor="start">HMS-GWO</text>
<path d="M252 270.05H292" stroke="#0000FF" stroke-width="2" fill="none"/>
<use href="#m1" x="272.15" y="270.05"/>
<text transform="translate(295 282.45) rotate(0.03) scale(1 1.04)" font-size="32" fill="#000" text-anchor="start">PSO</text>
<path d="M252 309.9H292" stroke="#00FF00" stroke-width="2" fill="none"/>
<use href="#m2" x="272.3" y="309.9"/>
<text transform="translate(295 322.3) rotate(0.03) scale(1 1.04)" font-size="32" fill="#000" text-anchor="start">CCS-GWO</text>
<path d="M252 350.6H292" stroke="#D95319" stroke-width="2" fill="none"/>
<use href="#m3" x="272.05" y="350.6"/>
<text transform="translate(295 363) rotate(0.03) scale(1 1.04)" font-size="32" fill="#000" text-anchor="start">MMSCC-GWO</text>
<path d="M252 390.8H292" stroke="#FF8000" stroke-width="2" fill="none"/>
<use href="#m4" x="271.9" y="390.8"/>
<text transform="translate(295 403.2) rotate(0.03) scale(1 1.04)" font-size="32" fill="#000" text-anchor="start">WCA</text>
<path d="M252 431.2H292" stroke="#800080" stroke-width="2" fill="none"/>
<use href="#m5" x="272.2" y="431.2"/>
<text transform="translate(295 443.6) rotate(0.03) scale(1 1.04)" font-size="32" fill="#000" text-anchor="start">GA</text>
</svg></body></html>
